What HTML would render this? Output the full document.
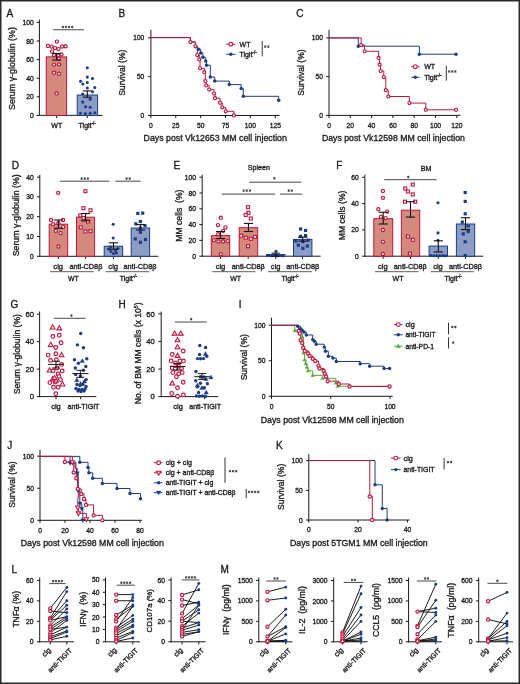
<!DOCTYPE html>
<html><head><meta charset="utf-8"><style>
html,body{margin:0;padding:0;background:#fff;}
svg{display:block;font-family:"Liberation Sans",sans-serif;will-change:transform;}
svg text{stroke:#1a1a1a;stroke-width:0.32px;}
</style></head><body>
<svg width="520" height="684" viewBox="0 0 520 684">
<rect x="0" y="0" width="520" height="684" fill="#fff"/>
<text x="6.6" y="16.5" font-size="10" text-anchor="start" fill="#1a1a1a" >A</text>
<line x1="39.4" y1="19.5" x2="39.4" y2="115.9" stroke="#1a1a1a" stroke-width="1.0" />
<line x1="36.6" y1="115.4" x2="39.4" y2="115.4" stroke="#1a1a1a" stroke-width="1.0" />
<text x="0" y="0" font-size="7.1" text-anchor="end" fill="#1a1a1a" transform="translate(33.7 117.96) scale(0.95 1)" >0</text>
<line x1="36.6" y1="96.8" x2="39.4" y2="96.8" stroke="#1a1a1a" stroke-width="1.0" />
<text x="0" y="0" font-size="7.1" text-anchor="end" fill="#1a1a1a" transform="translate(33.7 99.36) scale(0.95 1)" >20</text>
<line x1="36.6" y1="78.2" x2="39.4" y2="78.2" stroke="#1a1a1a" stroke-width="1.0" />
<text x="0" y="0" font-size="7.1" text-anchor="end" fill="#1a1a1a" transform="translate(33.7 80.76) scale(0.95 1)" >40</text>
<line x1="36.6" y1="59.6" x2="39.4" y2="59.6" stroke="#1a1a1a" stroke-width="1.0" />
<text x="0" y="0" font-size="7.1" text-anchor="end" fill="#1a1a1a" transform="translate(33.7 62.16) scale(0.95 1)" >60</text>
<line x1="36.6" y1="41" x2="39.4" y2="41" stroke="#1a1a1a" stroke-width="1.0" />
<text x="0" y="0" font-size="7.1" text-anchor="end" fill="#1a1a1a" transform="translate(33.7 43.56) scale(0.95 1)" >80</text>
<line x1="36.6" y1="22.4" x2="39.4" y2="22.4" stroke="#1a1a1a" stroke-width="1.0" />
<text x="0" y="0" font-size="7.1" text-anchor="end" fill="#1a1a1a" transform="translate(33.7 24.96) scale(0.95 1)" >100</text>
<line x1="38.9" y1="115.4" x2="102.5" y2="115.4" stroke="#1a1a1a" stroke-width="1.0" />
<line x1="56.6" y1="115.4" x2="56.6" y2="118" stroke="#1a1a1a" stroke-width="1.0" />
<line x1="87.3" y1="115.4" x2="87.3" y2="118" stroke="#1a1a1a" stroke-width="1.0" />
<text x="15" y="68.5" font-size="8.9" text-anchor="middle" fill="#1a1a1a" transform="rotate(-90 15 68.5)" >Serum &#947;-globulin (%)</text>
<rect x="46.25" y="56.9" width="20.35" height="58.5" fill="#d38a7c" stroke="#c0143c" stroke-width="1.0"/>
<rect x="77.2" y="95" width="20.4" height="20.4" fill="#8d9cc4" stroke="#1c3d85" stroke-width="1.0"/>
<text x="56.8" y="128.1" font-size="7" text-anchor="middle" fill="#1a1a1a" >WT</text>
<text x="78.6" y="128.1" font-size="7" text-anchor="start" fill="#1a1a1a" >Tigit<tspan font-size="4.6" dy="-2.9">-/-</tspan></text>
<line x1="53.1" y1="29.75" x2="84" y2="29.75" stroke="#333" stroke-width="0.9" />
<path d="M62.95 25.75L62.95 28.25M64.03 26.38L61.87 27.62M64.03 27.62L61.87 26.38" stroke="#333" stroke-width="0.85" fill="none"/>
<path d="M66.05 25.75L66.05 28.25M67.13 26.38L64.97 27.62M67.13 27.62L64.97 26.38" stroke="#333" stroke-width="0.85" fill="none"/>
<path d="M69.15 25.75L69.15 28.25M70.23 26.38L68.07 27.62M70.23 27.62L68.07 26.38" stroke="#333" stroke-width="0.85" fill="none"/>
<path d="M72.25 25.75L72.25 28.25M73.33 26.38L71.17 27.62M73.33 27.62L71.17 26.38" stroke="#333" stroke-width="0.85" fill="none"/>
<circle cx="56.9" cy="41.6" r="1.6" fill="#fff" stroke="#c0143c" stroke-width="1.15"/>
<circle cx="47.9" cy="45.9" r="1.6" fill="#fff" stroke="#c0143c" stroke-width="1.15"/>
<circle cx="51.5" cy="46.6" r="1.6" fill="#fff" stroke="#c0143c" stroke-width="1.15"/>
<circle cx="55" cy="48.1" r="1.6" fill="#fff" stroke="#c0143c" stroke-width="1.15"/>
<circle cx="58.5" cy="49.1" r="1.6" fill="#fff" stroke="#c0143c" stroke-width="1.15"/>
<circle cx="62.1" cy="46.5" r="1.6" fill="#fff" stroke="#c0143c" stroke-width="1.15"/>
<circle cx="65.6" cy="46.25" r="1.6" fill="#fff" stroke="#c0143c" stroke-width="1.15"/>
<circle cx="52.1" cy="51.6" r="1.6" fill="#fff" stroke="#c0143c" stroke-width="1.15"/>
<circle cx="54" cy="55" r="1.6" fill="#fff" stroke="#c0143c" stroke-width="1.15"/>
<circle cx="58.1" cy="55.4" r="1.6" fill="#fff" stroke="#c0143c" stroke-width="1.15"/>
<circle cx="61.5" cy="54.4" r="1.6" fill="#fff" stroke="#c0143c" stroke-width="1.15"/>
<circle cx="58.75" cy="58.75" r="1.6" fill="#fff" stroke="#c0143c" stroke-width="1.15"/>
<circle cx="54.1" cy="64.6" r="1.6" fill="#fff" stroke="#c0143c" stroke-width="1.15"/>
<circle cx="59.1" cy="64.4" r="1.6" fill="#fff" stroke="#c0143c" stroke-width="1.15"/>
<circle cx="54.1" cy="72.75" r="1.6" fill="#fff" stroke="#c0143c" stroke-width="1.15"/>
<circle cx="59" cy="73.75" r="1.6" fill="#fff" stroke="#c0143c" stroke-width="1.15"/>
<circle cx="56.6" cy="93.4" r="1.6" fill="#fff" stroke="#c0143c" stroke-width="1.15"/>
<line x1="56.6" y1="53.5" x2="56.6" y2="60" stroke="#111" stroke-width="1.1" />
<line x1="52.2" y1="53.5" x2="61" y2="53.5" stroke="#111" stroke-width="1.1" />
<line x1="52.2" y1="60" x2="61" y2="60" stroke="#111" stroke-width="1.1" />
<circle cx="87.3" cy="67.7" r="1.55" fill="#1c3d85"/>
<circle cx="87.3" cy="77.1" r="1.55" fill="#1c3d85"/>
<circle cx="92.5" cy="78.5" r="1.55" fill="#1c3d85"/>
<circle cx="80.6" cy="81.3" r="1.55" fill="#1c3d85"/>
<circle cx="82.9" cy="84" r="1.55" fill="#1c3d85"/>
<circle cx="87.3" cy="82.5" r="1.55" fill="#1c3d85"/>
<circle cx="94.8" cy="87.5" r="1.55" fill="#1c3d85"/>
<circle cx="87.3" cy="88" r="1.55" fill="#1c3d85"/>
<circle cx="92.5" cy="91.7" r="1.55" fill="#1c3d85"/>
<circle cx="82.7" cy="94" r="1.55" fill="#1c3d85"/>
<circle cx="90.2" cy="99.2" r="1.55" fill="#1c3d85"/>
<circle cx="82.7" cy="102.1" r="1.55" fill="#1c3d85"/>
<circle cx="85.6" cy="106.7" r="1.55" fill="#1c3d85"/>
<circle cx="90.2" cy="107.3" r="1.55" fill="#1c3d85"/>
<circle cx="80.4" cy="113.3" r="1.55" fill="#1c3d85"/>
<circle cx="85.3" cy="113.6" r="1.55" fill="#1c3d85"/>
<circle cx="90.2" cy="113.3" r="1.55" fill="#1c3d85"/>
<circle cx="94.8" cy="112.8" r="1.55" fill="#1c3d85"/>
<line x1="87.3" y1="90.9" x2="87.3" y2="97.2" stroke="#111" stroke-width="1.1" />
<line x1="82.9" y1="90.9" x2="91.7" y2="90.9" stroke="#111" stroke-width="1.1" />
<line x1="82.9" y1="97.2" x2="91.7" y2="97.2" stroke="#111" stroke-width="1.1" />
<text x="118.5" y="16.8" font-size="10" text-anchor="start" fill="#1a1a1a" >B</text>
<line x1="150.9" y1="29.8" x2="150.9" y2="116" stroke="#1a1a1a" stroke-width="1.0" />
<line x1="148.1" y1="115.5" x2="150.9" y2="115.5" stroke="#1a1a1a" stroke-width="1.0" />
<text x="0" y="0" font-size="7.1" text-anchor="end" fill="#1a1a1a" transform="translate(144.2 118.06) scale(0.92 1)" >0</text>
<line x1="148.1" y1="76.65" x2="150.9" y2="76.65" stroke="#1a1a1a" stroke-width="1.0" />
<text x="0" y="0" font-size="7.1" text-anchor="end" fill="#1a1a1a" transform="translate(144.2 79.21) scale(0.92 1)" >50</text>
<line x1="148.1" y1="37.8" x2="150.9" y2="37.8" stroke="#1a1a1a" stroke-width="1.0" />
<text x="0" y="0" font-size="7.1" text-anchor="end" fill="#1a1a1a" transform="translate(144.2 40.36) scale(0.92 1)" >100</text>
<line x1="150.4" y1="115.5" x2="279.5" y2="115.5" stroke="#1a1a1a" stroke-width="1.0" />
<line x1="150.9" y1="115.5" x2="150.9" y2="118.1" stroke="#1a1a1a" stroke-width="1.0" />
<text x="0" y="0" font-size="7.1" text-anchor="middle" fill="#1a1a1a" transform="translate(150.9 128.3) scale(0.95 1)" >0</text>
<line x1="175.78" y1="115.5" x2="175.78" y2="118.1" stroke="#1a1a1a" stroke-width="1.0" />
<text x="0" y="0" font-size="7.1" text-anchor="middle" fill="#1a1a1a" transform="translate(175.78 128.3) scale(0.95 1)" >25</text>
<line x1="200.65" y1="115.5" x2="200.65" y2="118.1" stroke="#1a1a1a" stroke-width="1.0" />
<text x="0" y="0" font-size="7.1" text-anchor="middle" fill="#1a1a1a" transform="translate(200.65 128.3) scale(0.95 1)" >50</text>
<line x1="225.53" y1="115.5" x2="225.53" y2="118.1" stroke="#1a1a1a" stroke-width="1.0" />
<text x="0" y="0" font-size="7.1" text-anchor="middle" fill="#1a1a1a" transform="translate(225.53 128.3) scale(0.95 1)" >75</text>
<line x1="250.4" y1="115.5" x2="250.4" y2="118.1" stroke="#1a1a1a" stroke-width="1.0" />
<text x="0" y="0" font-size="7.1" text-anchor="middle" fill="#1a1a1a" transform="translate(250.4 128.3) scale(0.95 1)" >100</text>
<line x1="275.27" y1="115.5" x2="275.27" y2="118.1" stroke="#1a1a1a" stroke-width="1.0" />
<text x="0" y="0" font-size="7.1" text-anchor="middle" fill="#1a1a1a" transform="translate(275.27 128.3) scale(0.95 1)" >125</text>
<text x="125.5" y="72.7" font-size="8.6" text-anchor="middle" fill="#1a1a1a" transform="rotate(-90 125.5 72.7)" >Survival (%)</text>
<text x="143.6" y="140.9" font-size="8.77" text-anchor="start" fill="#1a1a1a" >Days post Vk12653 MM cell injection</text>
<polyline points="150.9,37.6 190.4,37.6 190.4,42 195.4,42 195.4,46.3 197.3,46.3 197.3,49.3 198.5,49.3 200.7,49.3 200.7,52.9 202.9,52.9 202.9,57.3 205.7,57.3 205.7,61.1 206.5,61.1 206.5,65.2 210.3,65.2 210.3,77.1 214.7,77.1 214.7,81.1 229.3,81.1 229.3,84.6 241.2,84.6 241.2,88.5 243.3,88.5 243.3,96.3 278.7,96.3 278.7,100.3" fill="none" stroke="#1c3d85" stroke-width="1.0" stroke-linejoin="miter"/>
<polyline points="150.9,37.6 190.4,37.6 190.4,42 195.4,42 195.4,46.3 197.3,46.3 197.3,55 199.3,55 199.3,59.4 200,59.4 200,68.3 204.3,68.3 204.3,72.2 205.3,72.2 205.3,81.2 206.2,81.2 206.2,85.5 209.2,85.5 209.2,89.6 214,89.6 214,93.5 215,93.5 215,98.2 220,98.2 220,102.8 222.2,102.8 222.2,107.3 225.7,107.3 225.7,111.3 233.9,111.3 233.9,115.4" fill="none" stroke="#c0143c" stroke-width="1.0" stroke-linejoin="miter"/>
<circle cx="198.5" cy="49.3" r="1.75" fill="#1c3d85"/>
<circle cx="200.7" cy="52.9" r="1.75" fill="#1c3d85"/>
<circle cx="202.9" cy="57.3" r="1.75" fill="#1c3d85"/>
<circle cx="205.7" cy="61.1" r="1.75" fill="#1c3d85"/>
<circle cx="206.5" cy="65.2" r="1.75" fill="#1c3d85"/>
<circle cx="210.3" cy="77.1" r="1.75" fill="#1c3d85"/>
<circle cx="214.7" cy="81.1" r="1.75" fill="#1c3d85"/>
<circle cx="229.3" cy="84.6" r="1.75" fill="#1c3d85"/>
<circle cx="241.2" cy="88.5" r="1.75" fill="#1c3d85"/>
<circle cx="243.3" cy="96.3" r="1.75" fill="#1c3d85"/>
<circle cx="278.7" cy="100.3" r="1.75" fill="#1c3d85"/>
<circle cx="190.4" cy="42" r="1.55" fill="#fff" stroke="#c0143c" stroke-width="1.15"/>
<circle cx="195.4" cy="46.3" r="1.55" fill="#fff" stroke="#c0143c" stroke-width="1.15"/>
<circle cx="197.3" cy="55" r="1.55" fill="#fff" stroke="#c0143c" stroke-width="1.15"/>
<circle cx="199.3" cy="59.4" r="1.55" fill="#fff" stroke="#c0143c" stroke-width="1.15"/>
<circle cx="200" cy="68.3" r="1.55" fill="#fff" stroke="#c0143c" stroke-width="1.15"/>
<circle cx="204.3" cy="72.2" r="1.55" fill="#fff" stroke="#c0143c" stroke-width="1.15"/>
<circle cx="205.3" cy="81.2" r="1.55" fill="#fff" stroke="#c0143c" stroke-width="1.15"/>
<circle cx="206.2" cy="85.5" r="1.55" fill="#fff" stroke="#c0143c" stroke-width="1.15"/>
<circle cx="209.2" cy="89.6" r="1.55" fill="#fff" stroke="#c0143c" stroke-width="1.15"/>
<circle cx="214" cy="93.5" r="1.55" fill="#fff" stroke="#c0143c" stroke-width="1.15"/>
<circle cx="215" cy="98.2" r="1.55" fill="#fff" stroke="#c0143c" stroke-width="1.15"/>
<circle cx="220" cy="102.8" r="1.55" fill="#fff" stroke="#c0143c" stroke-width="1.15"/>
<circle cx="222.2" cy="107.3" r="1.55" fill="#fff" stroke="#c0143c" stroke-width="1.15"/>
<circle cx="225.7" cy="111.3" r="1.55" fill="#fff" stroke="#c0143c" stroke-width="1.15"/>
<circle cx="233.9" cy="115.4" r="1.55" fill="#fff" stroke="#c0143c" stroke-width="1.15"/>
<line x1="226.2" y1="44.3" x2="235.4" y2="44.3" stroke="#c0143c" stroke-width="1.0" />
<circle cx="230.8" cy="44.3" r="1.9" fill="#fff" stroke="#c0143c" stroke-width="1.15"/>
<text x="239.6" y="46.8" font-size="7" text-anchor="start" fill="#1a1a1a" >WT</text>
<line x1="226.2" y1="54.3" x2="235.4" y2="54.3" stroke="#1c3d85" stroke-width="1.0" />
<circle cx="230.8" cy="54.3" r="1.7" fill="#1c3d85"/>
<text x="239.4" y="56.9" font-size="7" text-anchor="start" fill="#1a1a1a" >Tigit<tspan font-size="4.6" dy="-2.9">-/-</tspan></text>
<line x1="262.2" y1="41" x2="262.2" y2="56.4" stroke="#333" stroke-width="1.0" />
<path d="M265.2 45.35L265.2 47.85M266.28 45.98L264.12 47.23M266.28 47.23L264.12 45.98" stroke="#333" stroke-width="0.85" fill="none"/>
<path d="M268.3 45.35L268.3 47.85M269.38 45.98L267.22 47.23M269.38 47.23L267.22 45.98" stroke="#333" stroke-width="0.85" fill="none"/>
<text x="296.2" y="16.7" font-size="10" text-anchor="start" fill="#1a1a1a" >C</text>
<line x1="329" y1="29.8" x2="329" y2="115.9" stroke="#1a1a1a" stroke-width="1.0" />
<line x1="326.2" y1="115.4" x2="329" y2="115.4" stroke="#1a1a1a" stroke-width="1.0" />
<text x="0" y="0" font-size="7.1" text-anchor="end" fill="#1a1a1a" transform="translate(322.9 117.96) scale(0.95 1)" >0</text>
<line x1="326.2" y1="76.65" x2="329" y2="76.65" stroke="#1a1a1a" stroke-width="1.0" />
<text x="0" y="0" font-size="7.1" text-anchor="end" fill="#1a1a1a" transform="translate(322.9 79.21) scale(0.95 1)" >50</text>
<line x1="326.2" y1="37.9" x2="329" y2="37.9" stroke="#1a1a1a" stroke-width="1.0" />
<text x="0" y="0" font-size="7.1" text-anchor="end" fill="#1a1a1a" transform="translate(322.9 40.46) scale(0.95 1)" >100</text>
<line x1="328.5" y1="115.4" x2="460.4" y2="115.4" stroke="#1a1a1a" stroke-width="1.0" />
<line x1="329" y1="115.4" x2="329" y2="118" stroke="#1a1a1a" stroke-width="1.0" />
<text x="0" y="0" font-size="7.1" text-anchor="middle" fill="#1a1a1a" transform="translate(329 128.2) scale(0.95 1)" >0</text>
<line x1="350.3" y1="115.4" x2="350.3" y2="118" stroke="#1a1a1a" stroke-width="1.0" />
<text x="0" y="0" font-size="7.1" text-anchor="middle" fill="#1a1a1a" transform="translate(350.3 128.2) scale(0.95 1)" >20</text>
<line x1="371.6" y1="115.4" x2="371.6" y2="118" stroke="#1a1a1a" stroke-width="1.0" />
<text x="0" y="0" font-size="7.1" text-anchor="middle" fill="#1a1a1a" transform="translate(371.6 128.2) scale(0.95 1)" >40</text>
<line x1="392.9" y1="115.4" x2="392.9" y2="118" stroke="#1a1a1a" stroke-width="1.0" />
<text x="0" y="0" font-size="7.1" text-anchor="middle" fill="#1a1a1a" transform="translate(392.9 128.2) scale(0.95 1)" >60</text>
<line x1="414.2" y1="115.4" x2="414.2" y2="118" stroke="#1a1a1a" stroke-width="1.0" />
<text x="0" y="0" font-size="7.1" text-anchor="middle" fill="#1a1a1a" transform="translate(414.2 128.2) scale(0.95 1)" >80</text>
<line x1="435.5" y1="115.4" x2="435.5" y2="118" stroke="#1a1a1a" stroke-width="1.0" />
<text x="0" y="0" font-size="7.1" text-anchor="middle" fill="#1a1a1a" transform="translate(435.5 128.2) scale(0.95 1)" >100</text>
<line x1="456.8" y1="115.4" x2="456.8" y2="118" stroke="#1a1a1a" stroke-width="1.0" />
<text x="0" y="0" font-size="7.1" text-anchor="middle" fill="#1a1a1a" transform="translate(456.8 128.2) scale(0.95 1)" >120</text>
<text x="304.3" y="72.5" font-size="8.6" text-anchor="middle" fill="#1a1a1a" transform="rotate(-90 304.3 72.5)" >Survival (%)</text>
<text x="321.9" y="140.9" font-size="8.75" text-anchor="start" fill="#1a1a1a" >Days post Vk12598 MM cell injection</text>
<polyline points="329,37.9 358.3,37.9 358.3,46.2 419.4,46.2 419.4,54.2 456,54.2 456,54.2" fill="none" stroke="#1c3d85" stroke-width="1.0" stroke-linejoin="miter"/>
<polyline points="329,37.9 361.2,37.9 361.2,45 364.6,45 364.6,51.3 378.6,51.3 378.6,57.9 379.6,57.9 379.6,64.6 380.6,64.6 380.6,71 383.8,71 383.8,77.1 385.8,77.1 385.8,90.2 388.3,90.2 388.3,96.5 409.4,96.5 409.4,103.1 425.8,103.1 425.8,109.8 456,109.8 456,109.8" fill="none" stroke="#c0143c" stroke-width="1.0" stroke-linejoin="miter"/>
<circle cx="358.3" cy="46.2" r="1.75" fill="#1c3d85"/>
<circle cx="419.4" cy="54.2" r="1.75" fill="#1c3d85"/>
<circle cx="456" cy="54.2" r="1.75" fill="#1c3d85"/>
<circle cx="361.2" cy="45" r="1.55" fill="#fff" stroke="#c0143c" stroke-width="1.15"/>
<circle cx="364.6" cy="51.3" r="1.55" fill="#fff" stroke="#c0143c" stroke-width="1.15"/>
<circle cx="378.6" cy="57.9" r="1.55" fill="#fff" stroke="#c0143c" stroke-width="1.15"/>
<circle cx="379.6" cy="64.6" r="1.55" fill="#fff" stroke="#c0143c" stroke-width="1.15"/>
<circle cx="380.6" cy="71" r="1.55" fill="#fff" stroke="#c0143c" stroke-width="1.15"/>
<circle cx="383.8" cy="77.1" r="1.55" fill="#fff" stroke="#c0143c" stroke-width="1.15"/>
<circle cx="385.8" cy="90.2" r="1.55" fill="#fff" stroke="#c0143c" stroke-width="1.15"/>
<circle cx="388.3" cy="96.5" r="1.55" fill="#fff" stroke="#c0143c" stroke-width="1.15"/>
<circle cx="409.4" cy="103.1" r="1.55" fill="#fff" stroke="#c0143c" stroke-width="1.15"/>
<circle cx="425.8" cy="109.8" r="1.55" fill="#fff" stroke="#c0143c" stroke-width="1.15"/>
<circle cx="456" cy="109.8" r="1.55" fill="#fff" stroke="#c0143c" stroke-width="1.15"/>
<line x1="411.3" y1="66.7" x2="419.6" y2="66.7" stroke="#c0143c" stroke-width="1.0" />
<circle cx="415.3" cy="66.7" r="1.9" fill="#fff" stroke="#c0143c" stroke-width="1.15"/>
<text x="424.2" y="69.2" font-size="7" text-anchor="start" fill="#1a1a1a" >WT</text>
<line x1="411.3" y1="77.3" x2="419.6" y2="77.3" stroke="#1c3d85" stroke-width="1.0" />
<circle cx="415.3" cy="77.3" r="1.7" fill="#1c3d85"/>
<text x="424.2" y="79.9" font-size="7" text-anchor="start" fill="#1a1a1a" >Tigit<tspan font-size="4.6" dy="-2.9">-/-</tspan></text>
<line x1="446.3" y1="65.8" x2="446.3" y2="80.6" stroke="#333" stroke-width="1.0" />
<path d="M449.2 70.25L449.2 72.75M450.28 70.88L448.12 72.12M450.28 72.12L448.12 70.88" stroke="#333" stroke-width="0.85" fill="none"/>
<path d="M452.3 70.25L452.3 72.75M453.38 70.88L451.22 72.12M453.38 72.12L451.22 70.88" stroke="#333" stroke-width="0.85" fill="none"/>
<path d="M455.4 70.25L455.4 72.75M456.48 70.88L454.32 72.12M456.48 72.12L454.32 70.88" stroke="#333" stroke-width="0.85" fill="none"/>
<text x="11.8" y="168.5" font-size="10" text-anchor="start" fill="#1a1a1a" >D</text>
<line x1="39.8" y1="174.8" x2="39.8" y2="256.8" stroke="#1a1a1a" stroke-width="1.0" />
<line x1="37" y1="256.3" x2="39.8" y2="256.3" stroke="#1a1a1a" stroke-width="1.0" />
<text x="0" y="0" font-size="7.1" text-anchor="end" fill="#1a1a1a" transform="translate(33.7 258.86) scale(0.95 1)" >0</text>
<line x1="37" y1="236.5" x2="39.8" y2="236.5" stroke="#1a1a1a" stroke-width="1.0" />
<text x="0" y="0" font-size="7.1" text-anchor="end" fill="#1a1a1a" transform="translate(33.7 239.06) scale(0.95 1)" >10</text>
<line x1="37" y1="216.7" x2="39.8" y2="216.7" stroke="#1a1a1a" stroke-width="1.0" />
<text x="0" y="0" font-size="7.1" text-anchor="end" fill="#1a1a1a" transform="translate(33.7 219.26) scale(0.95 1)" >20</text>
<line x1="37" y1="196.9" x2="39.8" y2="196.9" stroke="#1a1a1a" stroke-width="1.0" />
<text x="0" y="0" font-size="7.1" text-anchor="end" fill="#1a1a1a" transform="translate(33.7 199.46) scale(0.95 1)" >30</text>
<line x1="37" y1="177.1" x2="39.8" y2="177.1" stroke="#1a1a1a" stroke-width="1.0" />
<text x="0" y="0" font-size="7.1" text-anchor="end" fill="#1a1a1a" transform="translate(33.7 179.66) scale(0.95 1)" >40</text>
<line x1="39.3" y1="256.3" x2="158.4" y2="256.3" stroke="#1a1a1a" stroke-width="1.0" />
<line x1="58.45" y1="256.3" x2="58.45" y2="258.9" stroke="#1a1a1a" stroke-width="1.0" />
<line x1="85.55" y1="256.3" x2="85.55" y2="258.9" stroke="#1a1a1a" stroke-width="1.0" />
<line x1="113.45" y1="256.3" x2="113.45" y2="258.9" stroke="#1a1a1a" stroke-width="1.0" />
<line x1="140.4" y1="256.3" x2="140.4" y2="258.9" stroke="#1a1a1a" stroke-width="1.0" />
<text x="19.4" y="215.3" font-size="8.8" text-anchor="middle" fill="#1a1a1a" transform="rotate(-90 19.4 215.3)" >Serum &#947;-globulin (%)</text>
<rect x="49.2" y="224.2" width="18.5" height="32.1" fill="#d38a7c" stroke="#c0143c" stroke-width="1.0"/>
<rect x="76.5" y="217.2" width="18.1" height="39.1" fill="#d38a7c" stroke="#c0143c" stroke-width="1.0"/>
<rect x="104.2" y="246.2" width="18.5" height="10.1" fill="#8d9cc4" stroke="#1c3d85" stroke-width="1.0"/>
<rect x="131.2" y="228" width="18.4" height="28.3" fill="#8d9cc4" stroke="#1c3d85" stroke-width="1.0"/>
<circle cx="58.2" cy="192.8" r="1.6" fill="#fff" stroke="#c0143c" stroke-width="1.15"/>
<circle cx="51.1" cy="220" r="1.6" fill="#fff" stroke="#c0143c" stroke-width="1.15"/>
<circle cx="63.1" cy="220" r="1.6" fill="#fff" stroke="#c0143c" stroke-width="1.15"/>
<circle cx="53.1" cy="224.2" r="1.6" fill="#fff" stroke="#c0143c" stroke-width="1.15"/>
<circle cx="63.1" cy="226.9" r="1.6" fill="#fff" stroke="#c0143c" stroke-width="1.15"/>
<circle cx="58.4" cy="223" r="1.6" fill="#fff" stroke="#c0143c" stroke-width="1.15"/>
<circle cx="55.8" cy="230.8" r="1.6" fill="#fff" stroke="#c0143c" stroke-width="1.15"/>
<circle cx="60.5" cy="233.1" r="1.6" fill="#fff" stroke="#c0143c" stroke-width="1.15"/>
<circle cx="58.5" cy="246.5" r="1.6" fill="#fff" stroke="#c0143c" stroke-width="1.15"/>
<rect x="83.9" y="189.7" width="3.0" height="3.0" fill="#fff" stroke="#c0143c" stroke-width="1.1"/>
<rect x="81.9" y="206.7" width="3.0" height="3.0" fill="#fff" stroke="#c0143c" stroke-width="1.1"/>
<rect x="89" y="208.8" width="3.0" height="3.0" fill="#fff" stroke="#c0143c" stroke-width="1.1"/>
<rect x="78.8" y="213.9" width="3.0" height="3.0" fill="#fff" stroke="#c0143c" stroke-width="1.1"/>
<rect x="82" y="216.5" width="3.0" height="3.0" fill="#fff" stroke="#c0143c" stroke-width="1.1"/>
<rect x="86.5" y="220" width="3.0" height="3.0" fill="#fff" stroke="#c0143c" stroke-width="1.1"/>
<rect x="79.3" y="225.9" width="3.0" height="3.0" fill="#fff" stroke="#c0143c" stroke-width="1.1"/>
<rect x="83.9" y="230" width="3.0" height="3.0" fill="#fff" stroke="#c0143c" stroke-width="1.1"/>
<rect x="89" y="229.7" width="3.0" height="3.0" fill="#fff" stroke="#c0143c" stroke-width="1.1"/>
<circle cx="113.2" cy="224.2" r="1.55" fill="#1c3d85"/>
<circle cx="113.2" cy="238" r="1.55" fill="#1c3d85"/>
<circle cx="108.5" cy="249" r="1.55" fill="#1c3d85"/>
<circle cx="111" cy="251.5" r="1.55" fill="#1c3d85"/>
<circle cx="115.5" cy="250.5" r="1.55" fill="#1c3d85"/>
<circle cx="118" cy="248.5" r="1.55" fill="#1c3d85"/>
<circle cx="113.5" cy="253.5" r="1.55" fill="#1c3d85"/>
<circle cx="110.5" cy="247" r="1.55" fill="#1c3d85"/>
<circle cx="116.5" cy="253" r="1.55" fill="#1c3d85"/>
<rect x="136.2" y="211.8" width="3.2" height="3.2" fill="#1c3d85"/>
<rect x="141.1" y="211.5" width="3.2" height="3.2" fill="#1c3d85"/>
<rect x="138.8" y="219.9" width="3.2" height="3.2" fill="#1c3d85"/>
<rect x="134.2" y="222.2" width="3.2" height="3.2" fill="#1c3d85"/>
<rect x="143.4" y="224.1" width="3.2" height="3.2" fill="#1c3d85"/>
<rect x="138.8" y="226.6" width="3.2" height="3.2" fill="#1c3d85"/>
<rect x="138.8" y="230.7" width="3.2" height="3.2" fill="#1c3d85"/>
<rect x="133.7" y="237.3" width="3.2" height="3.2" fill="#1c3d85"/>
<rect x="143.9" y="237.9" width="3.2" height="3.2" fill="#1c3d85"/>
<rect x="138.8" y="240.7" width="3.2" height="3.2" fill="#1c3d85"/>
<line x1="58.45" y1="220" x2="58.45" y2="228.2" stroke="#111" stroke-width="1.1" />
<line x1="53.85" y1="220" x2="63.05" y2="220" stroke="#111" stroke-width="1.1" />
<line x1="53.85" y1="228.2" x2="63.05" y2="228.2" stroke="#111" stroke-width="1.1" />
<line x1="85.55" y1="213.5" x2="85.55" y2="220.8" stroke="#111" stroke-width="1.1" />
<line x1="80.95" y1="213.5" x2="90.15" y2="213.5" stroke="#111" stroke-width="1.1" />
<line x1="80.95" y1="220.8" x2="90.15" y2="220.8" stroke="#111" stroke-width="1.1" />
<line x1="113.45" y1="242.8" x2="113.45" y2="249.2" stroke="#111" stroke-width="1.1" />
<line x1="108.85" y1="242.8" x2="118.05" y2="242.8" stroke="#111" stroke-width="1.1" />
<line x1="108.85" y1="249.2" x2="118.05" y2="249.2" stroke="#111" stroke-width="1.1" />
<line x1="140.4" y1="224.6" x2="140.4" y2="230" stroke="#111" stroke-width="1.1" />
<line x1="135.8" y1="224.6" x2="145" y2="224.6" stroke="#111" stroke-width="1.1" />
<line x1="135.8" y1="230" x2="145" y2="230" stroke="#111" stroke-width="1.1" />
<line x1="60" y1="181.2" x2="109.4" y2="181.2" stroke="#333" stroke-width="0.9" />
<path d="M81.6 177.35L81.6 179.85M82.68 177.97L80.52 179.22M82.68 179.22L80.52 177.97" stroke="#333" stroke-width="0.85" fill="none"/>
<path d="M84.7 177.35L84.7 179.85M85.78 177.97L83.62 179.22M85.78 179.22L83.62 177.97" stroke="#333" stroke-width="0.85" fill="none"/>
<path d="M87.8 177.35L87.8 179.85M88.88 177.97L86.72 179.22M88.88 179.22L86.72 177.97" stroke="#333" stroke-width="0.85" fill="none"/>
<line x1="115.5" y1="181.2" x2="140.8" y2="181.2" stroke="#333" stroke-width="0.9" />
<path d="M126.6 177.35L126.6 179.85M127.68 177.97L125.52 179.22M127.68 179.22L125.52 177.97" stroke="#333" stroke-width="0.85" fill="none"/>
<path d="M129.7 177.35L129.7 179.85M130.78 177.97L128.62 179.22M130.78 179.22L128.62 177.97" stroke="#333" stroke-width="0.85" fill="none"/>
<text x="58.2" y="269.4" font-size="7.6" text-anchor="middle" fill="#1a1a1a" >clg</text>
<text x="85.9" y="269.4" font-size="7.3" text-anchor="middle" fill="#1a1a1a" >anti-CD8&#946;</text>
<text x="113.2" y="269.4" font-size="7.6" text-anchor="middle" fill="#1a1a1a" >clg</text>
<text x="140" y="269.4" font-size="7.3" text-anchor="middle" fill="#1a1a1a" >anti-CD8&#946;</text>
<line x1="50" y1="271.7" x2="93.6" y2="271.7" stroke="#555" stroke-width="0.95" />
<line x1="105.5" y1="271.7" x2="149.3" y2="271.7" stroke="#555" stroke-width="0.95" />
<text x="73.4" y="281" font-size="7" text-anchor="middle" fill="#1a1a1a" >WT</text>
<text x="119.8" y="281" font-size="7" text-anchor="start" fill="#1a1a1a" >Tigit<tspan font-size="4.6" dy="-2.9">-/-</tspan></text>
<text x="173.6" y="168.5" font-size="10" text-anchor="start" fill="#1a1a1a" >E</text>
<line x1="202.2" y1="174.7" x2="202.2" y2="256.7" stroke="#1a1a1a" stroke-width="1.0" />
<line x1="199.4" y1="256.2" x2="202.2" y2="256.2" stroke="#1a1a1a" stroke-width="1.0" />
<text x="0" y="0" font-size="7.1" text-anchor="end" fill="#1a1a1a" transform="translate(196.1 258.76) scale(0.95 1)" >0</text>
<line x1="199.4" y1="240.4" x2="202.2" y2="240.4" stroke="#1a1a1a" stroke-width="1.0" />
<text x="0" y="0" font-size="7.1" text-anchor="end" fill="#1a1a1a" transform="translate(196.1 242.96) scale(0.95 1)" >20</text>
<line x1="199.4" y1="224.6" x2="202.2" y2="224.6" stroke="#1a1a1a" stroke-width="1.0" />
<text x="0" y="0" font-size="7.1" text-anchor="end" fill="#1a1a1a" transform="translate(196.1 227.16) scale(0.95 1)" >40</text>
<line x1="199.4" y1="208.8" x2="202.2" y2="208.8" stroke="#1a1a1a" stroke-width="1.0" />
<text x="0" y="0" font-size="7.1" text-anchor="end" fill="#1a1a1a" transform="translate(196.1 211.36) scale(0.95 1)" >60</text>
<line x1="199.4" y1="193" x2="202.2" y2="193" stroke="#1a1a1a" stroke-width="1.0" />
<text x="0" y="0" font-size="7.1" text-anchor="end" fill="#1a1a1a" transform="translate(196.1 195.56) scale(0.95 1)" >80</text>
<line x1="199.4" y1="177.2" x2="202.2" y2="177.2" stroke="#1a1a1a" stroke-width="1.0" />
<text x="0" y="0" font-size="7.1" text-anchor="end" fill="#1a1a1a" transform="translate(196.1 179.76) scale(0.95 1)" >100</text>
<line x1="201.7" y1="256.2" x2="320.7" y2="256.2" stroke="#1a1a1a" stroke-width="1.0" />
<line x1="220.5" y1="256.2" x2="220.5" y2="258.8" stroke="#1a1a1a" stroke-width="1.0" />
<line x1="248.2" y1="256.2" x2="248.2" y2="258.8" stroke="#1a1a1a" stroke-width="1.0" />
<line x1="275.7" y1="256.2" x2="275.7" y2="258.8" stroke="#1a1a1a" stroke-width="1.0" />
<line x1="302.5" y1="256.2" x2="302.5" y2="258.8" stroke="#1a1a1a" stroke-width="1.0" />
<text x="182.3" y="215.6" font-size="8.6" text-anchor="middle" fill="#1a1a1a" transform="rotate(-90 182.3 215.6)" >MM cells&#160;&#160;(%)</text>
<text x="258.9" y="170.2" font-size="7.1" text-anchor="middle" fill="#1a1a1a" >Spleen</text>
<rect x="211.3" y="235.6" width="18.4" height="20.6" fill="#d38a7c" stroke="#c0143c" stroke-width="1.0"/>
<rect x="239.2" y="227.7" width="18.5" height="28.5" fill="#d38a7c" stroke="#c0143c" stroke-width="1.0"/>
<rect x="266.5" y="254.6" width="18.4" height="1.6" fill="#8d9cc4" stroke="#1c3d85" stroke-width="1.0"/>
<rect x="293.5" y="239.4" width="18.4" height="16.8" fill="#8d9cc4" stroke="#1c3d85" stroke-width="1.0"/>
<circle cx="220.8" cy="217.7" r="1.6" fill="#fff" stroke="#c0143c" stroke-width="1.15"/>
<circle cx="218" cy="225.1" r="1.6" fill="#fff" stroke="#c0143c" stroke-width="1.15"/>
<circle cx="225.4" cy="227.4" r="1.6" fill="#fff" stroke="#c0143c" stroke-width="1.15"/>
<circle cx="223.1" cy="230.8" r="1.6" fill="#fff" stroke="#c0143c" stroke-width="1.15"/>
<circle cx="218.2" cy="234.2" r="1.6" fill="#fff" stroke="#c0143c" stroke-width="1.15"/>
<circle cx="213.8" cy="240.3" r="1.6" fill="#fff" stroke="#c0143c" stroke-width="1.15"/>
<circle cx="218.5" cy="241.5" r="1.6" fill="#fff" stroke="#c0143c" stroke-width="1.15"/>
<circle cx="223.1" cy="241.5" r="1.6" fill="#fff" stroke="#c0143c" stroke-width="1.15"/>
<circle cx="227.7" cy="241.1" r="1.6" fill="#fff" stroke="#c0143c" stroke-width="1.15"/>
<circle cx="220.8" cy="254.2" r="1.6" fill="#fff" stroke="#c0143c" stroke-width="1.15"/>
<rect x="246.5" y="205.7" width="3.0" height="3.0" fill="#fff" stroke="#c0143c" stroke-width="1.1"/>
<rect x="247" y="211.3" width="3.0" height="3.0" fill="#fff" stroke="#c0143c" stroke-width="1.1"/>
<rect x="244.2" y="213.4" width="3.0" height="3.0" fill="#fff" stroke="#c0143c" stroke-width="1.1"/>
<rect x="249.3" y="217" width="3.0" height="3.0" fill="#fff" stroke="#c0143c" stroke-width="1.1"/>
<rect x="239.7" y="234.2" width="3.0" height="3.0" fill="#fff" stroke="#c0143c" stroke-width="1.1"/>
<rect x="244.3" y="236.2" width="3.0" height="3.0" fill="#fff" stroke="#c0143c" stroke-width="1.1"/>
<rect x="249.3" y="237.3" width="3.0" height="3.0" fill="#fff" stroke="#c0143c" stroke-width="1.1"/>
<rect x="253.6" y="235.4" width="3.0" height="3.0" fill="#fff" stroke="#c0143c" stroke-width="1.1"/>
<rect x="246.5" y="244.7" width="3.0" height="3.0" fill="#fff" stroke="#c0143c" stroke-width="1.1"/>
<circle cx="276" cy="251.3" r="1.55" fill="#1c3d85"/>
<circle cx="268.5" cy="255.3" r="1.55" fill="#1c3d85"/>
<circle cx="271.5" cy="255.8" r="1.55" fill="#1c3d85"/>
<circle cx="274.5" cy="255.3" r="1.55" fill="#1c3d85"/>
<circle cx="277.5" cy="255.8" r="1.55" fill="#1c3d85"/>
<circle cx="280.5" cy="255.3" r="1.55" fill="#1c3d85"/>
<circle cx="283" cy="255.8" r="1.55" fill="#1c3d85"/>
<rect x="299" y="227.4" width="3.2" height="3.2" fill="#1c3d85"/>
<rect x="304" y="228.9" width="3.2" height="3.2" fill="#1c3d85"/>
<rect x="299" y="234.7" width="3.2" height="3.2" fill="#1c3d85"/>
<rect x="304" y="234" width="3.2" height="3.2" fill="#1c3d85"/>
<rect x="294.2" y="239.3" width="3.2" height="3.2" fill="#1c3d85"/>
<rect x="306.6" y="238.6" width="3.2" height="3.2" fill="#1c3d85"/>
<rect x="296.7" y="243.6" width="3.2" height="3.2" fill="#1c3d85"/>
<rect x="305.7" y="244.4" width="3.2" height="3.2" fill="#1c3d85"/>
<rect x="301.3" y="246.7" width="3.2" height="3.2" fill="#1c3d85"/>
<rect x="301.3" y="240.1" width="3.2" height="3.2" fill="#1c3d85"/>
<line x1="220.5" y1="231.5" x2="220.5" y2="238.5" stroke="#111" stroke-width="1.1" />
<line x1="215.9" y1="231.5" x2="225.1" y2="231.5" stroke="#111" stroke-width="1.1" />
<line x1="215.9" y1="238.5" x2="225.1" y2="238.5" stroke="#111" stroke-width="1.1" />
<line x1="248.45" y1="223.4" x2="248.45" y2="231.5" stroke="#111" stroke-width="1.1" />
<line x1="243.85" y1="223.4" x2="253.05" y2="223.4" stroke="#111" stroke-width="1.1" />
<line x1="243.85" y1="231.5" x2="253.05" y2="231.5" stroke="#111" stroke-width="1.1" />
<line x1="275.7" y1="253.2" x2="275.7" y2="256.2" stroke="#111" stroke-width="1.1" />
<line x1="271.7" y1="253.2" x2="279.7" y2="253.2" stroke="#111" stroke-width="1.1" />
<line x1="271.7" y1="256.2" x2="279.7" y2="256.2" stroke="#111" stroke-width="1.1" />
<line x1="302.7" y1="237.1" x2="302.7" y2="241.2" stroke="#111" stroke-width="1.1" />
<line x1="298.1" y1="237.1" x2="307.3" y2="237.1" stroke="#111" stroke-width="1.1" />
<line x1="298.1" y1="241.2" x2="307.3" y2="241.2" stroke="#111" stroke-width="1.1" />
<line x1="249.3" y1="182.2" x2="301.3" y2="182.2" stroke="#333" stroke-width="0.9" />
<path d="M274.3 177.05L274.3 179.55M275.38 177.68L273.22 178.93M275.38 178.93L273.22 177.68" stroke="#333" stroke-width="0.85" fill="none"/>
<line x1="221.6" y1="194.1" x2="275.1" y2="194.1" stroke="#333" stroke-width="0.9" />
<path d="M243.7 189.35L243.7 191.85M244.78 189.97L242.62 191.22M244.78 191.22L242.62 189.97" stroke="#333" stroke-width="0.85" fill="none"/>
<path d="M246.8 189.35L246.8 191.85M247.88 189.97L245.72 191.22M247.88 191.22L245.72 189.97" stroke="#333" stroke-width="0.85" fill="none"/>
<path d="M249.9 189.35L249.9 191.85M250.98 189.97L248.82 191.22M250.98 191.22L248.82 189.97" stroke="#333" stroke-width="0.85" fill="none"/>
<line x1="280" y1="194.1" x2="302.3" y2="194.1" stroke="#333" stroke-width="0.9" />
<path d="M288.75 189.35L288.75 191.85M289.83 189.97L287.67 191.22M289.83 191.22L287.67 189.97" stroke="#333" stroke-width="0.85" fill="none"/>
<path d="M291.85 189.35L291.85 191.85M292.93 189.97L290.77 191.22M292.93 191.22L290.77 189.97" stroke="#333" stroke-width="0.85" fill="none"/>
<text x="220.5" y="269.4" font-size="7.6" text-anchor="middle" fill="#1a1a1a" >clg</text>
<text x="248.3" y="269.4" font-size="7.3" text-anchor="middle" fill="#1a1a1a" >anti-CD8&#946;</text>
<text x="275.7" y="269.4" font-size="7.6" text-anchor="middle" fill="#1a1a1a" >clg</text>
<text x="302.8" y="269.4" font-size="7.3" text-anchor="middle" fill="#1a1a1a" >anti-CD8&#946;</text>
<line x1="212.3" y1="271.7" x2="255.4" y2="271.7" stroke="#555" stroke-width="0.95" />
<line x1="268" y1="271.7" x2="311.8" y2="271.7" stroke="#555" stroke-width="0.95" />
<text x="235.7" y="281" font-size="7" text-anchor="middle" fill="#1a1a1a" >WT</text>
<text x="281.6" y="281" font-size="7" text-anchor="start" fill="#1a1a1a" >Tigit<tspan font-size="4.6" dy="-2.9">-/-</tspan></text>
<text x="336.3" y="168.8" font-size="10" text-anchor="start" fill="#1a1a1a" >F</text>
<line x1="364.9" y1="174.7" x2="364.9" y2="256.7" stroke="#1a1a1a" stroke-width="1.0" />
<line x1="362.1" y1="256.2" x2="364.9" y2="256.2" stroke="#1a1a1a" stroke-width="1.0" />
<text x="0" y="0" font-size="7.1" text-anchor="end" fill="#1a1a1a" transform="translate(358.8 258.76) scale(0.95 1)" >0</text>
<line x1="362.1" y1="229.9" x2="364.9" y2="229.9" stroke="#1a1a1a" stroke-width="1.0" />
<text x="0" y="0" font-size="7.1" text-anchor="end" fill="#1a1a1a" transform="translate(358.8 232.46) scale(0.95 1)" >20</text>
<line x1="362.1" y1="203.6" x2="364.9" y2="203.6" stroke="#1a1a1a" stroke-width="1.0" />
<text x="0" y="0" font-size="7.1" text-anchor="end" fill="#1a1a1a" transform="translate(358.8 206.16) scale(0.95 1)" >40</text>
<line x1="362.1" y1="177.3" x2="364.9" y2="177.3" stroke="#1a1a1a" stroke-width="1.0" />
<text x="0" y="0" font-size="7.1" text-anchor="end" fill="#1a1a1a" transform="translate(358.8 179.86) scale(0.95 1)" >60</text>
<line x1="364.4" y1="256.2" x2="483.4" y2="256.2" stroke="#1a1a1a" stroke-width="1.0" />
<line x1="383.2" y1="256.2" x2="383.2" y2="258.8" stroke="#1a1a1a" stroke-width="1.0" />
<line x1="410.5" y1="256.2" x2="410.5" y2="258.8" stroke="#1a1a1a" stroke-width="1.0" />
<line x1="438.3" y1="256.2" x2="438.3" y2="258.8" stroke="#1a1a1a" stroke-width="1.0" />
<line x1="465.5" y1="256.2" x2="465.5" y2="258.8" stroke="#1a1a1a" stroke-width="1.0" />
<text x="344.7" y="215.4" font-size="8.6" text-anchor="middle" fill="#1a1a1a" transform="rotate(-90 344.7 215.4)" >MM cells (%)</text>
<text x="426" y="170.6" font-size="7.1" text-anchor="middle" fill="#1a1a1a" >BM</text>
<rect x="373.8" y="218.7" width="18.9" height="37.5" fill="#d38a7c" stroke="#c0143c" stroke-width="1.0"/>
<rect x="401.4" y="210.2" width="18.3" height="46" fill="#d38a7c" stroke="#c0143c" stroke-width="1.0"/>
<rect x="429.1" y="246.1" width="18.4" height="10.1" fill="#8d9cc4" stroke="#1c3d85" stroke-width="1.0"/>
<rect x="456.4" y="224" width="18.3" height="32.2" fill="#8d9cc4" stroke="#1c3d85" stroke-width="1.0"/>
<circle cx="382.9" cy="190.9" r="1.6" fill="#fff" stroke="#c0143c" stroke-width="1.15"/>
<circle cx="382.9" cy="197.8" r="1.6" fill="#fff" stroke="#c0143c" stroke-width="1.15"/>
<circle cx="378.3" cy="209.2" r="1.6" fill="#fff" stroke="#c0143c" stroke-width="1.15"/>
<circle cx="387.2" cy="211.6" r="1.6" fill="#fff" stroke="#c0143c" stroke-width="1.15"/>
<circle cx="380.9" cy="216.7" r="1.6" fill="#fff" stroke="#c0143c" stroke-width="1.15"/>
<circle cx="385.6" cy="218.1" r="1.6" fill="#fff" stroke="#c0143c" stroke-width="1.15"/>
<circle cx="382.9" cy="230" r="1.6" fill="#fff" stroke="#c0143c" stroke-width="1.15"/>
<circle cx="382.9" cy="241.8" r="1.6" fill="#fff" stroke="#c0143c" stroke-width="1.15"/>
<circle cx="382.9" cy="254" r="1.6" fill="#fff" stroke="#c0143c" stroke-width="1.15"/>
<rect x="403.8" y="187" width="3.0" height="3.0" fill="#fff" stroke="#c0143c" stroke-width="1.1"/>
<rect x="411.3" y="183.1" width="3.0" height="3.0" fill="#fff" stroke="#c0143c" stroke-width="1.1"/>
<rect x="406.4" y="190" width="3.0" height="3.0" fill="#fff" stroke="#c0143c" stroke-width="1.1"/>
<rect x="411.3" y="192.9" width="3.0" height="3.0" fill="#fff" stroke="#c0143c" stroke-width="1.1"/>
<rect x="403.5" y="200.2" width="3.0" height="3.0" fill="#fff" stroke="#c0143c" stroke-width="1.1"/>
<rect x="413.7" y="200.2" width="3.0" height="3.0" fill="#fff" stroke="#c0143c" stroke-width="1.1"/>
<rect x="406.4" y="235" width="3.0" height="3.0" fill="#fff" stroke="#c0143c" stroke-width="1.1"/>
<rect x="411.3" y="238.3" width="3.0" height="3.0" fill="#fff" stroke="#c0143c" stroke-width="1.1"/>
<rect x="408.4" y="252.1" width="3.0" height="3.0" fill="#fff" stroke="#c0143c" stroke-width="1.1"/>
<circle cx="438" cy="202.7" r="1.55" fill="#1c3d85"/>
<circle cx="438" cy="232.9" r="1.55" fill="#1c3d85"/>
<circle cx="438" cy="240.2" r="1.55" fill="#1c3d85"/>
<circle cx="430.8" cy="255.6" r="1.55" fill="#1c3d85"/>
<circle cx="433.8" cy="255.8" r="1.55" fill="#1c3d85"/>
<circle cx="436.8" cy="255.6" r="1.55" fill="#1c3d85"/>
<circle cx="439.8" cy="255.8" r="1.55" fill="#1c3d85"/>
<circle cx="442.8" cy="255.6" r="1.55" fill="#1c3d85"/>
<circle cx="445.5" cy="255.8" r="1.55" fill="#1c3d85"/>
<rect x="463.6" y="190.9" width="3.2" height="3.2" fill="#1c3d85"/>
<rect x="463.6" y="199.8" width="3.2" height="3.2" fill="#1c3d85"/>
<rect x="463.6" y="212.2" width="3.2" height="3.2" fill="#1c3d85"/>
<rect x="460.7" y="220.5" width="3.2" height="3.2" fill="#1c3d85"/>
<rect x="466.6" y="224.4" width="3.2" height="3.2" fill="#1c3d85"/>
<rect x="461.7" y="232.3" width="3.2" height="3.2" fill="#1c3d85"/>
<rect x="466.6" y="229.9" width="3.2" height="3.2" fill="#1c3d85"/>
<rect x="463.6" y="240.2" width="3.2" height="3.2" fill="#1c3d85"/>
<rect x="463.6" y="253.9" width="3.2" height="3.2" fill="#1c3d85"/>
<line x1="383.2" y1="212.2" x2="383.2" y2="224" stroke="#111" stroke-width="1.1" />
<line x1="378.6" y1="212.2" x2="387.8" y2="212.2" stroke="#111" stroke-width="1.1" />
<line x1="378.6" y1="224" x2="387.8" y2="224" stroke="#111" stroke-width="1.1" />
<line x1="410.5" y1="201.7" x2="410.5" y2="217.1" stroke="#111" stroke-width="1.1" />
<line x1="405.9" y1="201.7" x2="415.1" y2="201.7" stroke="#111" stroke-width="1.1" />
<line x1="405.9" y1="217.1" x2="415.1" y2="217.1" stroke="#111" stroke-width="1.1" />
<line x1="438.3" y1="240.8" x2="438.3" y2="252" stroke="#111" stroke-width="1.1" />
<line x1="433.7" y1="240.8" x2="442.9" y2="240.8" stroke="#111" stroke-width="1.1" />
<line x1="433.7" y1="252" x2="442.9" y2="252" stroke="#111" stroke-width="1.1" />
<line x1="465.5" y1="217.7" x2="465.5" y2="229.6" stroke="#111" stroke-width="1.1" />
<line x1="460.9" y1="217.7" x2="470.1" y2="217.7" stroke="#111" stroke-width="1.1" />
<line x1="460.9" y1="229.6" x2="470.1" y2="229.6" stroke="#111" stroke-width="1.1" />
<line x1="384.2" y1="179.7" x2="436.6" y2="179.7" stroke="#333" stroke-width="0.9" />
<path d="M408.3 175.75L408.3 178.25M409.38 176.38L407.22 177.62M409.38 177.62L407.22 176.38" stroke="#333" stroke-width="0.85" fill="none"/>
<text x="382.9" y="269.4" font-size="7.6" text-anchor="middle" fill="#1a1a1a" >clg</text>
<text x="410.3" y="269.4" font-size="7.3" text-anchor="middle" fill="#1a1a1a" >anti-CD8&#946;</text>
<text x="438" y="269.4" font-size="7.6" text-anchor="middle" fill="#1a1a1a" >clg</text>
<text x="465.5" y="269.4" font-size="7.3" text-anchor="middle" fill="#1a1a1a" >anti-CD8&#946;</text>
<line x1="375" y1="271.7" x2="418.4" y2="271.7" stroke="#555" stroke-width="0.95" />
<line x1="430.7" y1="271.7" x2="474.1" y2="271.7" stroke="#555" stroke-width="0.95" />
<text x="398" y="281" font-size="7" text-anchor="middle" fill="#1a1a1a" >WT</text>
<text x="444.5" y="281" font-size="7" text-anchor="start" fill="#1a1a1a" >Tigit<tspan font-size="4.6" dy="-2.9">-/-</tspan></text>
<text x="10.4" y="308.1" font-size="10" text-anchor="start" fill="#1a1a1a" >G</text>
<line x1="39.6" y1="311.5" x2="39.6" y2="397.1" stroke="#1a1a1a" stroke-width="1.0" />
<line x1="36.8" y1="396.6" x2="39.6" y2="396.6" stroke="#1a1a1a" stroke-width="1.0" />
<text x="34.1" y="399.37" font-size="7.7" text-anchor="end" fill="#1a1a1a" >0</text>
<line x1="36.8" y1="369.1" x2="39.6" y2="369.1" stroke="#1a1a1a" stroke-width="1.0" />
<text x="34.1" y="371.87" font-size="7.7" text-anchor="end" fill="#1a1a1a" >20</text>
<line x1="36.8" y1="341.6" x2="39.6" y2="341.6" stroke="#1a1a1a" stroke-width="1.0" />
<text x="34.1" y="344.37" font-size="7.7" text-anchor="end" fill="#1a1a1a" >40</text>
<line x1="36.8" y1="314.1" x2="39.6" y2="314.1" stroke="#1a1a1a" stroke-width="1.0" />
<text x="34.1" y="316.87" font-size="7.7" text-anchor="end" fill="#1a1a1a" >60</text>
<line x1="39.1" y1="396.6" x2="96.3" y2="396.6" stroke="#1a1a1a" stroke-width="1.0" />
<line x1="56" y1="396.6" x2="56" y2="399.2" stroke="#1a1a1a" stroke-width="1.0" />
<line x1="80.7" y1="396.6" x2="80.7" y2="399.2" stroke="#1a1a1a" stroke-width="1.0" />
<text x="19.8" y="354.2" font-size="8.6" text-anchor="middle" fill="#1a1a1a" transform="rotate(-90 19.8 354.2)" >Serum &#947;-globulin (%)</text>
<line x1="54" y1="318.3" x2="85.7" y2="318.3" stroke="#333" stroke-width="0.9" />
<path d="M71.5 314.35L71.5 316.85M72.58 314.98L70.42 316.23M72.58 316.23L70.42 314.98" stroke="#333" stroke-width="0.85" fill="none"/>
<text x="56" y="409.2" font-size="7.6" text-anchor="middle" fill="#1a1a1a" >clg</text>
<text x="83.5" y="409.2" font-size="7.1" text-anchor="middle" fill="#1a1a1a" >anti-TIGIT</text>
<circle cx="52.9" cy="336.4" r="1.85" fill="#fff" stroke="#c0143c" stroke-width="1.15"/>
<circle cx="59.3" cy="335.2" r="1.85" fill="#fff" stroke="#c0143c" stroke-width="1.15"/>
<circle cx="61.1" cy="342.8" r="1.85" fill="#fff" stroke="#c0143c" stroke-width="1.15"/>
<circle cx="55.8" cy="347.5" r="1.85" fill="#fff" stroke="#c0143c" stroke-width="1.15"/>
<circle cx="55.8" cy="353.7" r="1.85" fill="#fff" stroke="#c0143c" stroke-width="1.15"/>
<circle cx="48.2" cy="355.1" r="1.85" fill="#fff" stroke="#c0143c" stroke-width="1.15"/>
<circle cx="50.5" cy="360.4" r="1.85" fill="#fff" stroke="#c0143c" stroke-width="1.15"/>
<circle cx="56.4" cy="359.8" r="1.85" fill="#fff" stroke="#c0143c" stroke-width="1.15"/>
<circle cx="61.6" cy="364.4" r="1.85" fill="#fff" stroke="#c0143c" stroke-width="1.15"/>
<circle cx="53.1" cy="370.9" r="1.85" fill="#fff" stroke="#c0143c" stroke-width="1.15"/>
<circle cx="62.2" cy="370.9" r="1.85" fill="#fff" stroke="#c0143c" stroke-width="1.15"/>
<circle cx="58.1" cy="374" r="1.85" fill="#fff" stroke="#c0143c" stroke-width="1.15"/>
<circle cx="59" cy="376.5" r="1.85" fill="#fff" stroke="#c0143c" stroke-width="1.15"/>
<circle cx="60.5" cy="379.6" r="1.85" fill="#fff" stroke="#c0143c" stroke-width="1.15"/>
<circle cx="49.9" cy="382.6" r="1.85" fill="#fff" stroke="#c0143c" stroke-width="1.15"/>
<circle cx="55.2" cy="382" r="1.85" fill="#fff" stroke="#c0143c" stroke-width="1.15"/>
<circle cx="53.5" cy="387.3" r="1.85" fill="#fff" stroke="#c0143c" stroke-width="1.15"/>
<circle cx="58.1" cy="387.3" r="1.85" fill="#fff" stroke="#c0143c" stroke-width="1.15"/>
<circle cx="55.8" cy="393.7" r="1.85" fill="#fff" stroke="#c0143c" stroke-width="1.15"/>
<circle cx="57" cy="368" r="1.85" fill="#fff" stroke="#c0143c" stroke-width="1.15"/>
<polygon points="52.6,324.79 50.2,328.97 55,328.97" fill="#fff" stroke="#c0143c" stroke-width="1.1"/>
<polygon points="59.3,325.69 56.9,329.87 61.7,329.87" fill="#fff" stroke="#c0143c" stroke-width="1.1"/>
<polygon points="50.8,342.29 48.4,346.47 53.2,346.47" fill="#fff" stroke="#c0143c" stroke-width="1.1"/>
<polygon points="61.6,352.59 59.2,356.77 64,356.77" fill="#fff" stroke="#c0143c" stroke-width="1.1"/>
<polygon points="49.6,367.79 47.2,371.97 52,371.97" fill="#fff" stroke="#c0143c" stroke-width="1.1"/>
<polygon points="52.9,376.59 50.5,380.77 55.3,380.77" fill="#fff" stroke="#c0143c" stroke-width="1.1"/>
<polygon points="56,377.99 53.6,382.17 58.4,382.17" fill="#fff" stroke="#c0143c" stroke-width="1.1"/>
<polygon points="62.5,381.79 60.1,385.97 64.9,385.97" fill="#fff" stroke="#c0143c" stroke-width="1.1"/>
<polygon points="54.5,375.49 52.1,379.67 56.9,379.67" fill="#fff" stroke="#c0143c" stroke-width="1.1"/>
<circle cx="80.7" cy="333.5" r="1.7" fill="#1c3d85"/>
<circle cx="77.4" cy="344.9" r="1.7" fill="#1c3d85"/>
<circle cx="83.5" cy="347.8" r="1.7" fill="#1c3d85"/>
<circle cx="74.5" cy="359.8" r="1.7" fill="#1c3d85"/>
<circle cx="86.8" cy="358.8" r="1.7" fill="#1c3d85"/>
<circle cx="78.4" cy="363.3" r="1.7" fill="#1c3d85"/>
<circle cx="85.8" cy="366.5" r="1.7" fill="#1c3d85"/>
<circle cx="75.3" cy="368" r="1.7" fill="#1c3d85"/>
<circle cx="83.5" cy="370.3" r="1.7" fill="#1c3d85"/>
<circle cx="75.7" cy="374.4" r="1.7" fill="#1c3d85"/>
<circle cx="80.5" cy="376" r="1.7" fill="#1c3d85"/>
<circle cx="86.2" cy="379.6" r="1.7" fill="#1c3d85"/>
<circle cx="77" cy="384.5" r="1.7" fill="#1c3d85"/>
<circle cx="80" cy="385.5" r="1.7" fill="#1c3d85"/>
<circle cx="83" cy="384.5" r="1.7" fill="#1c3d85"/>
<circle cx="86" cy="386.5" r="1.7" fill="#1c3d85"/>
<circle cx="76" cy="388.5" r="1.7" fill="#1c3d85"/>
<circle cx="79" cy="389.5" r="1.7" fill="#1c3d85"/>
<circle cx="82" cy="389.5" r="1.7" fill="#1c3d85"/>
<circle cx="85" cy="389" r="1.7" fill="#1c3d85"/>
<circle cx="78" cy="391" r="1.7" fill="#1c3d85"/>
<circle cx="81" cy="391.5" r="1.7" fill="#1c3d85"/>
<circle cx="84" cy="391" r="1.7" fill="#1c3d85"/>
<polygon points="82.3,358.6 80,362.6 84.6,362.6" fill="#1c3d85" stroke="#1c3d85" stroke-width="0.3"/>
<polygon points="76.8,377.8 74.5,381.8 79.1,381.8" fill="#1c3d85" stroke="#1c3d85" stroke-width="0.3"/>
<polygon points="84.4,379 82.1,383 86.7,383" fill="#1c3d85" stroke="#1c3d85" stroke-width="0.3"/>
<polygon points="80.5,381.6 78.2,385.6 82.8,385.6" fill="#1c3d85" stroke="#1c3d85" stroke-width="0.3"/>
<line x1="48" y1="364.4" x2="64" y2="364.4" stroke="#1a1a1a" stroke-width="1.0" />
<line x1="56" y1="361.2" x2="56" y2="368" stroke="#1a1a1a" stroke-width="1.0" />
<line x1="52" y1="361.2" x2="60" y2="361.2" stroke="#1a1a1a" stroke-width="1.0" />
<line x1="52" y1="368" x2="60" y2="368" stroke="#1a1a1a" stroke-width="1.0" />
<line x1="72.2" y1="373.6" x2="88.5" y2="373.6" stroke="#1a1a1a" stroke-width="1.0" />
<line x1="80.35" y1="370.3" x2="80.35" y2="377.3" stroke="#1a1a1a" stroke-width="1.0" />
<line x1="76.35" y1="370.3" x2="84.35" y2="370.3" stroke="#1a1a1a" stroke-width="1.0" />
<line x1="76.35" y1="377.3" x2="84.35" y2="377.3" stroke="#1a1a1a" stroke-width="1.0" />
<text x="118.6" y="307.7" font-size="10" text-anchor="start" fill="#1a1a1a" >H</text>
<line x1="161.2" y1="311.6" x2="161.2" y2="397.1" stroke="#1a1a1a" stroke-width="1.0" />
<line x1="158.4" y1="396.6" x2="161.2" y2="396.6" stroke="#1a1a1a" stroke-width="1.0" />
<text x="154.7" y="399.37" font-size="7.7" text-anchor="end" fill="#1a1a1a" >0</text>
<line x1="158.4" y1="369" x2="161.2" y2="369" stroke="#1a1a1a" stroke-width="1.0" />
<text x="154.7" y="371.77" font-size="7.7" text-anchor="end" fill="#1a1a1a" >20</text>
<line x1="158.4" y1="341.4" x2="161.2" y2="341.4" stroke="#1a1a1a" stroke-width="1.0" />
<text x="154.7" y="344.17" font-size="7.7" text-anchor="end" fill="#1a1a1a" >40</text>
<line x1="158.4" y1="313.8" x2="161.2" y2="313.8" stroke="#1a1a1a" stroke-width="1.0" />
<text x="154.7" y="316.57" font-size="7.7" text-anchor="end" fill="#1a1a1a" >60</text>
<line x1="160.7" y1="396.6" x2="218" y2="396.6" stroke="#1a1a1a" stroke-width="1.0" />
<line x1="178.1" y1="396.6" x2="178.1" y2="399.2" stroke="#1a1a1a" stroke-width="1.0" />
<line x1="204.6" y1="396.6" x2="204.6" y2="399.2" stroke="#1a1a1a" stroke-width="1.0" />
<text x="140.6" y="353.3" font-size="8.6" text-anchor="middle" fill="#1a1a1a" transform="rotate(-90 140.6 353.3)" >No. of BM MM cells (x 10<tspan font-size="5.2" dy="-3">5</tspan><tspan dy="3">)</tspan></text>
<line x1="175" y1="322" x2="206.8" y2="322" stroke="#333" stroke-width="0.9" />
<path d="M191.2 317.95L191.2 320.45M192.28 318.57L190.12 319.82M192.28 319.82L190.12 318.57" stroke="#333" stroke-width="0.85" fill="none"/>
<text x="178.1" y="409.4" font-size="7.6" text-anchor="middle" fill="#1a1a1a" >clg</text>
<text x="205.2" y="409.4" font-size="7.1" text-anchor="middle" fill="#1a1a1a" >anti-TIGIT</text>
<circle cx="183.2" cy="351" r="1.85" fill="#fff" stroke="#c0143c" stroke-width="1.15"/>
<circle cx="172.3" cy="354.5" r="1.85" fill="#fff" stroke="#c0143c" stroke-width="1.15"/>
<circle cx="171.1" cy="360.9" r="1.85" fill="#fff" stroke="#c0143c" stroke-width="1.15"/>
<circle cx="183.4" cy="360.9" r="1.85" fill="#fff" stroke="#c0143c" stroke-width="1.15"/>
<circle cx="179.9" cy="360.9" r="1.85" fill="#fff" stroke="#c0143c" stroke-width="1.15"/>
<circle cx="175.5" cy="363" r="1.85" fill="#fff" stroke="#c0143c" stroke-width="1.15"/>
<circle cx="172.3" cy="368" r="1.85" fill="#fff" stroke="#c0143c" stroke-width="1.15"/>
<circle cx="175.2" cy="369.1" r="1.85" fill="#fff" stroke="#c0143c" stroke-width="1.15"/>
<circle cx="181.6" cy="368.5" r="1.85" fill="#fff" stroke="#c0143c" stroke-width="1.15"/>
<circle cx="172.9" cy="372.6" r="1.85" fill="#fff" stroke="#c0143c" stroke-width="1.15"/>
<circle cx="178.7" cy="373.8" r="1.85" fill="#fff" stroke="#c0143c" stroke-width="1.15"/>
<circle cx="182.2" cy="372.6" r="1.85" fill="#fff" stroke="#c0143c" stroke-width="1.15"/>
<circle cx="176.4" cy="376.7" r="1.85" fill="#fff" stroke="#c0143c" stroke-width="1.15"/>
<circle cx="183.2" cy="382.2" r="1.85" fill="#fff" stroke="#c0143c" stroke-width="1.15"/>
<circle cx="177.5" cy="387.8" r="1.85" fill="#fff" stroke="#c0143c" stroke-width="1.15"/>
<circle cx="171.7" cy="393.5" r="1.85" fill="#fff" stroke="#c0143c" stroke-width="1.15"/>
<circle cx="177.5" cy="396.3" r="1.85" fill="#fff" stroke="#c0143c" stroke-width="1.15"/>
<circle cx="183.4" cy="394.9" r="1.85" fill="#fff" stroke="#c0143c" stroke-width="1.15"/>
<circle cx="178.5" cy="366" r="1.85" fill="#fff" stroke="#c0143c" stroke-width="1.15"/>
<polygon points="174.6,330.99 172.2,335.17 177,335.17" fill="#fff" stroke="#c0143c" stroke-width="1.1"/>
<polygon points="180.8,330.99 178.4,335.17 183.2,335.17" fill="#fff" stroke="#c0143c" stroke-width="1.1"/>
<polygon points="177.5,337.59 175.1,341.77 179.9,341.77" fill="#fff" stroke="#c0143c" stroke-width="1.1"/>
<polygon points="177.5,344.59 175.1,348.77 179.9,348.77" fill="#fff" stroke="#c0143c" stroke-width="1.1"/>
<polygon points="177.5,353.19 175.1,357.37 179.9,357.37" fill="#fff" stroke="#c0143c" stroke-width="1.1"/>
<polygon points="172.3,380.89 169.9,385.07 174.7,385.07" fill="#fff" stroke="#c0143c" stroke-width="1.1"/>
<circle cx="199.8" cy="345.5" r="1.7" fill="#1c3d85"/>
<circle cx="205.6" cy="347.5" r="1.7" fill="#1c3d85"/>
<circle cx="199.5" cy="354.5" r="1.7" fill="#1c3d85"/>
<circle cx="206.8" cy="356.3" r="1.7" fill="#1c3d85"/>
<circle cx="197.5" cy="358.6" r="1.7" fill="#1c3d85"/>
<circle cx="200.5" cy="358.8" r="1.7" fill="#1c3d85"/>
<circle cx="203.5" cy="358.6" r="1.7" fill="#1c3d85"/>
<circle cx="196" cy="371.5" r="1.7" fill="#1c3d85"/>
<circle cx="200.4" cy="376.7" r="1.7" fill="#1c3d85"/>
<circle cx="203.8" cy="377" r="1.7" fill="#1c3d85"/>
<circle cx="195.7" cy="380.8" r="1.7" fill="#1c3d85"/>
<circle cx="200.4" cy="383.2" r="1.7" fill="#1c3d85"/>
<circle cx="207.4" cy="383.7" r="1.7" fill="#1c3d85"/>
<circle cx="197.4" cy="386.7" r="1.7" fill="#1c3d85"/>
<circle cx="204.4" cy="387.8" r="1.7" fill="#1c3d85"/>
<circle cx="198.6" cy="392.5" r="1.7" fill="#1c3d85"/>
<circle cx="196.5" cy="396" r="1.7" fill="#1c3d85"/>
<circle cx="199.5" cy="396.2" r="1.7" fill="#1c3d85"/>
<circle cx="202.5" cy="396" r="1.7" fill="#1c3d85"/>
<circle cx="205.5" cy="396.2" r="1.7" fill="#1c3d85"/>
<polygon points="205.4,351.5 203.1,355.5 207.7,355.5" fill="#1c3d85" stroke="#1c3d85" stroke-width="0.3"/>
<polygon points="210.9,374.9 208.6,378.9 213.2,378.9" fill="#1c3d85" stroke="#1c3d85" stroke-width="0.3"/>
<polygon points="206,376.6 203.7,380.6 208.3,380.6" fill="#1c3d85" stroke="#1c3d85" stroke-width="0.3"/>
<polygon points="197.5,383.1 195.2,387.1 199.8,387.1" fill="#1c3d85" stroke="#1c3d85" stroke-width="0.3"/>
<polygon points="206.2,390.1 203.9,394.1 208.5,394.1" fill="#1c3d85" stroke="#1c3d85" stroke-width="0.3"/>
<polygon points="202,385.6 199.7,389.6 204.3,389.6" fill="#1c3d85" stroke="#1c3d85" stroke-width="0.3"/>
<line x1="169.9" y1="366.5" x2="185.5" y2="366.5" stroke="#1a1a1a" stroke-width="1.0" />
<line x1="177.7" y1="363.5" x2="177.7" y2="370" stroke="#1a1a1a" stroke-width="1.0" />
<line x1="173.7" y1="363.5" x2="181.7" y2="363.5" stroke="#1a1a1a" stroke-width="1.0" />
<line x1="173.7" y1="370" x2="181.7" y2="370" stroke="#1a1a1a" stroke-width="1.0" />
<line x1="194.3" y1="376.7" x2="209.7" y2="376.7" stroke="#1a1a1a" stroke-width="1.0" />
<line x1="202" y1="373.6" x2="202" y2="379.4" stroke="#1a1a1a" stroke-width="1.0" />
<line x1="198" y1="373.6" x2="206" y2="373.6" stroke="#1a1a1a" stroke-width="1.0" />
<line x1="198" y1="379.4" x2="206" y2="379.4" stroke="#1a1a1a" stroke-width="1.0" />
<text x="238.8" y="307.9" font-size="10" text-anchor="start" fill="#1a1a1a" >I</text>
<line x1="271.5" y1="317.7" x2="271.5" y2="396.8" stroke="#1a1a1a" stroke-width="1.0" />
<line x1="268.7" y1="396.3" x2="271.5" y2="396.3" stroke="#1a1a1a" stroke-width="1.0" />
<text x="0" y="0" font-size="7.1" text-anchor="end" fill="#1a1a1a" transform="translate(265.4 398.86) scale(0.95 1)" >0</text>
<line x1="268.7" y1="360.75" x2="271.5" y2="360.75" stroke="#1a1a1a" stroke-width="1.0" />
<text x="0" y="0" font-size="7.1" text-anchor="end" fill="#1a1a1a" transform="translate(265.4 363.31) scale(0.95 1)" >50</text>
<line x1="268.7" y1="325.2" x2="271.5" y2="325.2" stroke="#1a1a1a" stroke-width="1.0" />
<text x="0" y="0" font-size="7.1" text-anchor="end" fill="#1a1a1a" transform="translate(265.4 327.76) scale(0.95 1)" >100</text>
<line x1="271" y1="396.3" x2="392.7" y2="396.3" stroke="#1a1a1a" stroke-width="1.0" />
<line x1="271.5" y1="396.3" x2="271.5" y2="398.9" stroke="#1a1a1a" stroke-width="1.0" />
<text x="0" y="0" font-size="7.1" text-anchor="middle" fill="#1a1a1a" transform="translate(271.5 409.3) scale(0.95 1)" >0</text>
<line x1="330.75" y1="396.3" x2="330.75" y2="398.9" stroke="#1a1a1a" stroke-width="1.0" />
<text x="0" y="0" font-size="7.1" text-anchor="middle" fill="#1a1a1a" transform="translate(330.75 409.3) scale(0.95 1)" >50</text>
<line x1="390" y1="396.3" x2="390" y2="398.9" stroke="#1a1a1a" stroke-width="1.0" />
<text x="0" y="0" font-size="7.1" text-anchor="middle" fill="#1a1a1a" transform="translate(390 409.3) scale(0.95 1)" >100</text>
<text x="247.5" y="357.2" font-size="8.6" text-anchor="middle" fill="#1a1a1a" transform="rotate(-90 247.5 357.2)" >Survival (%)</text>
<text x="260.8" y="423" font-size="8.75" text-anchor="start" fill="#1a1a1a" >Days post Vk12598 MM cell injection</text>
<polyline points="271.5,325.3 294.8,325.3 294.8,330.6 302.3,330.6 302.3,337 303.5,337 303.5,352.9 304.6,352.9 304.6,359.8 305.8,359.8 305.8,363.6 306.9,363.6 306.9,367.3 308.1,367.3 308.1,370.8 312.7,370.8 312.7,375.4 322.5,375.4 322.5,378.3 335.8,378.3 335.8,382.9 337.5,382.9 337.5,386.3 389.6,386.2" fill="none" stroke="#5aaa3c" stroke-width="1.0" stroke-linejoin="miter"/>
<polyline points="271.5,325.3 297.7,325.3 297.7,326.3 300.6,326.3 300.6,328.7 302.3,328.7 302.3,330.4 304,330.4 304,332.1 306.3,332.1 306.3,335 312.7,335 312.7,339.6 314.4,339.6 314.4,341.3 316.2,341.3 316.2,344.2 324.2,344.2 324.2,347.1 325.4,347.1 325.4,351.2 328.3,351.2 328.3,356.3 332.9,356.3 332.9,358.1 336.3,358.1 336.3,361.5 360.2,361.5 360.2,363.7 369.7,363.7 369.7,366.2 384.1,366.2 384.1,368.5 389.6,368.5 389.6,368.5" fill="none" stroke="#1c3d85" stroke-width="1.0" stroke-linejoin="miter"/>
<polyline points="271.5,325.3 298.6,325.3 298.6,331 299.8,331 299.8,333.6 300.6,333.6 300.6,340.2 302.3,340.2 302.3,343.1 303.2,343.1 303.2,347.7 304.8,347.7 304.8,350.9 308.1,350.9 308.1,353.5 309.5,353.5 309.5,355.8 312.7,355.8 312.7,358.7 315.2,358.7 315.2,361 318.5,361 318.5,365.6 319.6,365.6 319.6,368.5 323.7,368.5 323.7,370.8 324.8,370.8 324.8,373.7 326,373.7 326,376.5 327.7,376.5 327.7,381.2 338.7,381.2 338.7,384 349.5,384 349.5,386.5 389.6,386.5 389.6,386.5" fill="none" stroke="#c0143c" stroke-width="1.0" stroke-linejoin="miter"/>
<polygon points="294.8,328.62 292.9,331.92 296.7,331.92" fill="#5aaa3c" stroke="#5aaa3c" stroke-width="0.3"/>
<polygon points="302.3,335.02 300.4,338.32 304.2,338.32" fill="#5aaa3c" stroke="#5aaa3c" stroke-width="0.3"/>
<polygon points="303.5,350.92 301.6,354.22 305.4,354.22" fill="#5aaa3c" stroke="#5aaa3c" stroke-width="0.3"/>
<polygon points="304.6,357.82 302.7,361.12 306.5,361.12" fill="#5aaa3c" stroke="#5aaa3c" stroke-width="0.3"/>
<polygon points="305.8,361.62 303.9,364.92 307.7,364.92" fill="#5aaa3c" stroke="#5aaa3c" stroke-width="0.3"/>
<polygon points="306.9,365.32 305,368.62 308.8,368.62" fill="#5aaa3c" stroke="#5aaa3c" stroke-width="0.3"/>
<polygon points="308.1,368.82 306.2,372.12 310,372.12" fill="#5aaa3c" stroke="#5aaa3c" stroke-width="0.3"/>
<polygon points="312.7,373.42 310.8,376.72 314.6,376.72" fill="#5aaa3c" stroke="#5aaa3c" stroke-width="0.3"/>
<polygon points="322.5,376.32 320.6,379.62 324.4,379.62" fill="#5aaa3c" stroke="#5aaa3c" stroke-width="0.3"/>
<polygon points="335.8,380.92 333.9,384.22 337.7,384.22" fill="#5aaa3c" stroke="#5aaa3c" stroke-width="0.3"/>
<polygon points="337.5,384.32 335.6,387.62 339.4,387.62" fill="#5aaa3c" stroke="#5aaa3c" stroke-width="0.3"/>
<circle cx="297.7" cy="326.3" r="1.7" fill="#1c3d85"/>
<circle cx="300.6" cy="328.7" r="1.7" fill="#1c3d85"/>
<circle cx="302.3" cy="330.4" r="1.7" fill="#1c3d85"/>
<circle cx="304" cy="332.1" r="1.7" fill="#1c3d85"/>
<circle cx="306.3" cy="335" r="1.7" fill="#1c3d85"/>
<circle cx="312.7" cy="339.6" r="1.7" fill="#1c3d85"/>
<circle cx="314.4" cy="341.3" r="1.7" fill="#1c3d85"/>
<circle cx="316.2" cy="344.2" r="1.7" fill="#1c3d85"/>
<circle cx="324.2" cy="347.1" r="1.7" fill="#1c3d85"/>
<circle cx="325.4" cy="351.2" r="1.7" fill="#1c3d85"/>
<circle cx="328.3" cy="356.3" r="1.7" fill="#1c3d85"/>
<circle cx="332.9" cy="358.1" r="1.7" fill="#1c3d85"/>
<circle cx="336.3" cy="361.5" r="1.7" fill="#1c3d85"/>
<circle cx="360.2" cy="363.7" r="1.7" fill="#1c3d85"/>
<circle cx="369.7" cy="366.2" r="1.7" fill="#1c3d85"/>
<circle cx="384.1" cy="368.5" r="1.7" fill="#1c3d85"/>
<circle cx="389.6" cy="368.5" r="1.7" fill="#1c3d85"/>
<circle cx="298.6" cy="331" r="1.6" fill="#fff" stroke="#c0143c" stroke-width="1.15"/>
<circle cx="299.8" cy="333.6" r="1.6" fill="#fff" stroke="#c0143c" stroke-width="1.15"/>
<circle cx="300.6" cy="340.2" r="1.6" fill="#fff" stroke="#c0143c" stroke-width="1.15"/>
<circle cx="302.3" cy="343.1" r="1.6" fill="#fff" stroke="#c0143c" stroke-width="1.15"/>
<circle cx="303.2" cy="347.7" r="1.6" fill="#fff" stroke="#c0143c" stroke-width="1.15"/>
<circle cx="304.8" cy="350.9" r="1.6" fill="#fff" stroke="#c0143c" stroke-width="1.15"/>
<circle cx="308.1" cy="353.5" r="1.6" fill="#fff" stroke="#c0143c" stroke-width="1.15"/>
<circle cx="309.5" cy="355.8" r="1.6" fill="#fff" stroke="#c0143c" stroke-width="1.15"/>
<circle cx="312.7" cy="358.7" r="1.6" fill="#fff" stroke="#c0143c" stroke-width="1.15"/>
<circle cx="315.2" cy="361" r="1.6" fill="#fff" stroke="#c0143c" stroke-width="1.15"/>
<circle cx="318.5" cy="365.6" r="1.6" fill="#fff" stroke="#c0143c" stroke-width="1.15"/>
<circle cx="319.6" cy="368.5" r="1.6" fill="#fff" stroke="#c0143c" stroke-width="1.15"/>
<circle cx="323.7" cy="370.8" r="1.6" fill="#fff" stroke="#c0143c" stroke-width="1.15"/>
<circle cx="324.8" cy="373.7" r="1.6" fill="#fff" stroke="#c0143c" stroke-width="1.15"/>
<circle cx="326" cy="376.5" r="1.6" fill="#fff" stroke="#c0143c" stroke-width="1.15"/>
<circle cx="327.7" cy="381.2" r="1.6" fill="#fff" stroke="#c0143c" stroke-width="1.15"/>
<circle cx="338.7" cy="384" r="1.6" fill="#fff" stroke="#c0143c" stroke-width="1.15"/>
<circle cx="349.5" cy="386.5" r="1.6" fill="#fff" stroke="#c0143c" stroke-width="1.15"/>
<circle cx="389.6" cy="386.5" r="1.6" fill="#fff" stroke="#c0143c" stroke-width="1.15"/>
<line x1="393.8" y1="324.6" x2="402.6" y2="324.6" stroke="#c0143c" stroke-width="1.0" />
<circle cx="398.3" cy="324.6" r="1.9" fill="#fff" stroke="#c0143c" stroke-width="1.15"/>
<line x1="393.8" y1="334.8" x2="402.6" y2="334.8" stroke="#1c3d85" stroke-width="1.0" />
<circle cx="398.3" cy="334.8" r="1.7" fill="#1c3d85"/>
<line x1="393.8" y1="346.2" x2="402.6" y2="346.2" stroke="#5aaa3c" stroke-width="1.0" />
<polygon points="398.3,343.9 396.1,347.73 400.5,347.73" fill="#5aaa3c" stroke="#5aaa3c" stroke-width="0.3"/>
<text x="405.4" y="327.2" font-size="7.3" text-anchor="start" fill="#1a1a1a" >clg</text>
<text x="405.4" y="337.4" font-size="6.7" text-anchor="start" fill="#1a1a1a" >anti-TIGIT</text>
<text x="405.4" y="348.6" font-size="6.8" text-anchor="start" fill="#1a1a1a" >anti-PD-1</text>
<line x1="448.5" y1="322.6" x2="448.5" y2="334.3" stroke="#333" stroke-width="1.0" />
<path d="M452.3 325.75L452.3 328.25M453.38 326.38L451.22 327.62M453.38 327.62L451.22 326.38" stroke="#333" stroke-width="0.85" fill="none"/>
<path d="M455.4 325.75L455.4 328.25M456.48 326.38L454.32 327.62M456.48 327.62L454.32 326.38" stroke="#333" stroke-width="0.85" fill="none"/>
<line x1="448.5" y1="337.4" x2="448.5" y2="348.5" stroke="#333" stroke-width="1.0" />
<path d="M453.2 341.35L453.2 343.85M454.28 341.98L452.12 343.23M454.28 343.23L452.12 341.98" stroke="#333" stroke-width="0.85" fill="none"/>
<text x="7.2" y="449.2" font-size="10" text-anchor="start" fill="#1a1a1a" >J</text>
<line x1="40" y1="449.8" x2="40" y2="520.8" stroke="#1a1a1a" stroke-width="1.0" />
<line x1="37.2" y1="520.3" x2="40" y2="520.3" stroke="#1a1a1a" stroke-width="1.0" />
<text x="0" y="0" font-size="7.1" text-anchor="end" fill="#1a1a1a" transform="translate(33.9 522.86) scale(0.95 1)" >0</text>
<line x1="37.2" y1="488.25" x2="40" y2="488.25" stroke="#1a1a1a" stroke-width="1.0" />
<text x="0" y="0" font-size="7.1" text-anchor="end" fill="#1a1a1a" transform="translate(33.9 490.81) scale(0.95 1)" >50</text>
<line x1="37.2" y1="456.2" x2="40" y2="456.2" stroke="#1a1a1a" stroke-width="1.0" />
<text x="0" y="0" font-size="7.1" text-anchor="end" fill="#1a1a1a" transform="translate(33.9 458.76) scale(0.95 1)" >100</text>
<line x1="39.5" y1="520.3" x2="142" y2="520.3" stroke="#1a1a1a" stroke-width="1.0" />
<line x1="40" y1="520.3" x2="40" y2="522.9" stroke="#1a1a1a" stroke-width="1.0" />
<text x="0" y="0" font-size="7.1" text-anchor="middle" fill="#1a1a1a" transform="translate(40 532.9) scale(0.95 1)" >0</text>
<line x1="65" y1="520.3" x2="65" y2="522.9" stroke="#1a1a1a" stroke-width="1.0" />
<text x="0" y="0" font-size="7.1" text-anchor="middle" fill="#1a1a1a" transform="translate(65 532.9) scale(0.95 1)" >20</text>
<line x1="90" y1="520.3" x2="90" y2="522.9" stroke="#1a1a1a" stroke-width="1.0" />
<text x="0" y="0" font-size="7.1" text-anchor="middle" fill="#1a1a1a" transform="translate(90 532.9) scale(0.95 1)" >40</text>
<line x1="115" y1="520.3" x2="115" y2="522.9" stroke="#1a1a1a" stroke-width="1.0" />
<text x="0" y="0" font-size="7.1" text-anchor="middle" fill="#1a1a1a" transform="translate(115 532.9) scale(0.95 1)" >60</text>
<line x1="140" y1="520.3" x2="140" y2="522.9" stroke="#1a1a1a" stroke-width="1.0" />
<text x="0" y="0" font-size="7.1" text-anchor="middle" fill="#1a1a1a" transform="translate(140 532.9) scale(0.95 1)" >80</text>
<text x="15" y="484.5" font-size="8.6" text-anchor="middle" fill="#1a1a1a" transform="rotate(-90 15 484.5)" >Survival (%)</text>
<text x="20.8" y="546" font-size="8.75" text-anchor="start" fill="#1a1a1a" >Days post Vk12598 MM cell injection</text>
<polyline points="40,456.4 79.8,456.4 79.8,462.3 88,462.3 88,467.5 88.9,467.5 88.9,472.8 92.7,472.8 92.7,478.3 102.4,478.3 102.4,483.4 117,483.4 117,488.5 130,488.5 130,493.5 140.5,493.5 140.5,498.8" fill="none" stroke="#1c3d85" stroke-width="1.0" stroke-linejoin="miter"/>
<polyline points="40,456.4 70,456.4 70,463.1 75,463.1 75,468.5 77.2,468.5 77.2,473.3 78.2,473.3 78.2,490.6 79.8,490.6 79.8,503.5 81.7,503.5 81.7,508.7 82.8,508.7 82.8,520.3" fill="none" stroke="#1c3d85" stroke-width="1.0" stroke-linejoin="miter"/>
<polyline points="40,456.4 72.3,456.4 72.3,462.3 76,462.3 76,468 76.5,468 76.5,474 77.2,474 77.2,480 77.6,480 77.6,486 78,486 78,492 78.3,492 78.3,498 77.8,498 77.8,507.6 78.4,507.6 78.4,513.4 86.3,513.4 86.3,519.3" fill="none" stroke="#c0143c" stroke-width="1.0" stroke-linejoin="miter"/>
<polyline points="40,456.4 64.9,456.4 64.9,462 73.7,462 73.7,472.5 76.3,472.5 76.3,478.3 77.8,478.3 77.8,488.9 81.3,488.9 81.3,493.9 84,493.9 84,499 86,499 86,504.9 93.6,504.9 93.6,515.4 102.4,515.4 102.4,520.3" fill="none" stroke="#c0143c" stroke-width="1.0" stroke-linejoin="miter"/>
<circle cx="79.8" cy="462.3" r="1.75" fill="#1c3d85"/>
<circle cx="88" cy="467.5" r="1.75" fill="#1c3d85"/>
<circle cx="88.9" cy="472.8" r="1.75" fill="#1c3d85"/>
<circle cx="92.7" cy="478.3" r="1.75" fill="#1c3d85"/>
<circle cx="102.4" cy="483.4" r="1.75" fill="#1c3d85"/>
<circle cx="117" cy="488.5" r="1.75" fill="#1c3d85"/>
<circle cx="130" cy="493.5" r="1.75" fill="#1c3d85"/>
<circle cx="140.5" cy="498.8" r="1.75" fill="#1c3d85"/>
<polygon points="70,465.4 67.8,461.57 72.2,461.57" fill="#1c3d85" stroke="#1c3d85" stroke-width="0.3"/>
<polygon points="77.2,475.6 75,471.77 79.4,471.77" fill="#1c3d85" stroke="#1c3d85" stroke-width="0.3"/>
<polygon points="78.2,492.9 76,489.07 80.4,489.07" fill="#1c3d85" stroke="#1c3d85" stroke-width="0.3"/>
<polygon points="79.8,505.8 77.6,501.97 82,501.97" fill="#1c3d85" stroke="#1c3d85" stroke-width="0.3"/>
<polygon points="81.7,511 79.5,507.17 83.9,507.17" fill="#1c3d85" stroke="#1c3d85" stroke-width="0.3"/>
<polygon points="82.8,522.6 80.6,518.77 85,518.77" fill="#1c3d85" stroke="#1c3d85" stroke-width="0.3"/>
<polygon points="72.3,464.6 70.1,460.77 74.5,460.77" fill="#fff" stroke="#c0143c" stroke-width="1.05"/>
<polygon points="77.8,509.9 75.6,506.07 80,506.07" fill="#fff" stroke="#c0143c" stroke-width="1.05"/>
<polygon points="78.4,515.7 76.2,511.87 80.6,511.87" fill="#fff" stroke="#c0143c" stroke-width="1.05"/>
<polygon points="86.3,521.6 84.1,517.77 88.5,517.77" fill="#fff" stroke="#c0143c" stroke-width="1.05"/>
<circle cx="64.9" cy="462" r="1.6" fill="#fff" stroke="#c0143c" stroke-width="1.15"/>
<circle cx="73.7" cy="472.5" r="1.6" fill="#fff" stroke="#c0143c" stroke-width="1.15"/>
<circle cx="76.3" cy="478.3" r="1.6" fill="#fff" stroke="#c0143c" stroke-width="1.15"/>
<circle cx="77.8" cy="488.9" r="1.6" fill="#fff" stroke="#c0143c" stroke-width="1.15"/>
<circle cx="81.3" cy="493.9" r="1.6" fill="#fff" stroke="#c0143c" stroke-width="1.15"/>
<circle cx="84" cy="499" r="1.6" fill="#fff" stroke="#c0143c" stroke-width="1.15"/>
<circle cx="86" cy="504.9" r="1.6" fill="#fff" stroke="#c0143c" stroke-width="1.15"/>
<circle cx="93.6" cy="515.4" r="1.6" fill="#fff" stroke="#c0143c" stroke-width="1.15"/>
<circle cx="102.4" cy="520.3" r="1.6" fill="#fff" stroke="#c0143c" stroke-width="1.15"/>
<line x1="153.9" y1="462.7" x2="162.3" y2="462.7" stroke="#c0143c" stroke-width="1.0" />
<circle cx="158.6" cy="462.7" r="1.9" fill="#fff" stroke="#c0143c" stroke-width="1.15"/>
<text x="165.7" y="465.2" font-size="7.1" text-anchor="start" fill="#1a1a1a" >clg + clg</text>
<line x1="153.9" y1="472.8" x2="162.3" y2="472.8" stroke="#c0143c" stroke-width="1.0" />
<polygon points="158.6,475.2 156.3,471.2 160.9,471.2" fill="#fff" stroke="#c0143c" stroke-width="1.1"/>
<text x="165.7" y="475.3" font-size="7.0" text-anchor="start" fill="#1a1a1a" >clg + anti-CD8&#946;</text>
<line x1="153.9" y1="482.8" x2="162.3" y2="482.8" stroke="#1c3d85" stroke-width="1.0" />
<circle cx="158.6" cy="482.8" r="1.7" fill="#1c3d85"/>
<text x="165.7" y="485.3" font-size="6.9" text-anchor="start" fill="#1a1a1a" >anti-TIGIT + clg</text>
<line x1="153.9" y1="492.7" x2="162.3" y2="492.7" stroke="#1c3d85" stroke-width="1.0" />
<polygon points="158.6,495.1 156.3,491.1 160.9,491.1" fill="#1c3d85" stroke="#1c3d85" stroke-width="0.3"/>
<text x="165.7" y="495.2" font-size="6.9" text-anchor="start" fill="#1a1a1a" >anti-TIGIT + anti-CD8&#946;</text>
<line x1="225" y1="457.4" x2="225" y2="482.8" stroke="#333" stroke-width="1.0" />
<path d="M230 469.95L230 472.45M231.08 470.57L228.92 471.82M231.08 471.82L228.92 470.57" stroke="#333" stroke-width="0.85" fill="none"/>
<path d="M233.1 469.95L233.1 472.45M234.18 470.57L232.02 471.82M234.18 471.82L232.02 470.57" stroke="#333" stroke-width="0.85" fill="none"/>
<path d="M236.2 469.95L236.2 472.45M237.28 470.57L235.12 471.82M237.28 471.82L235.12 470.57" stroke="#333" stroke-width="0.85" fill="none"/>
<line x1="246.2" y1="489" x2="246.2" y2="498.3" stroke="#333" stroke-width="1.0" />
<path d="M249 490.65L249 493.15M250.08 491.27L247.92 492.52M250.08 492.52L247.92 491.27" stroke="#333" stroke-width="0.85" fill="none"/>
<path d="M252.1 490.65L252.1 493.15M253.18 491.27L251.02 492.52M253.18 492.52L251.02 491.27" stroke="#333" stroke-width="0.85" fill="none"/>
<path d="M255.2 490.65L255.2 493.15M256.28 491.27L254.12 492.52M256.28 492.52L254.12 491.27" stroke="#333" stroke-width="0.85" fill="none"/>
<path d="M258.3 490.65L258.3 493.15M259.38 491.27L257.22 492.52M259.38 492.52L257.22 491.27" stroke="#333" stroke-width="0.85" fill="none"/>
<text x="276" y="449.4" font-size="10" text-anchor="start" fill="#1a1a1a" >K</text>
<line x1="308.8" y1="454.2" x2="308.8" y2="520.5" stroke="#1a1a1a" stroke-width="1.0" />
<line x1="306" y1="520" x2="308.8" y2="520" stroke="#1a1a1a" stroke-width="1.0" />
<text x="0" y="0" font-size="7.1" text-anchor="end" fill="#1a1a1a" transform="translate(302.7 522.56) scale(0.95 1)" >0</text>
<line x1="306" y1="490.3" x2="308.8" y2="490.3" stroke="#1a1a1a" stroke-width="1.0" />
<text x="0" y="0" font-size="7.1" text-anchor="end" fill="#1a1a1a" transform="translate(302.7 492.86) scale(0.95 1)" >50</text>
<line x1="306" y1="460.6" x2="308.8" y2="460.6" stroke="#1a1a1a" stroke-width="1.0" />
<text x="0" y="0" font-size="7.1" text-anchor="end" fill="#1a1a1a" transform="translate(302.7 463.16) scale(0.95 1)" >100</text>
<line x1="308.3" y1="520" x2="409.6" y2="520" stroke="#1a1a1a" stroke-width="1.0" />
<line x1="308.8" y1="520" x2="308.8" y2="522.6" stroke="#1a1a1a" stroke-width="1.0" />
<text x="0" y="0" font-size="7.1" text-anchor="middle" fill="#1a1a1a" transform="translate(308.8 532.4) scale(0.95 1)" >0</text>
<line x1="358.1" y1="520" x2="358.1" y2="522.6" stroke="#1a1a1a" stroke-width="1.0" />
<text x="0" y="0" font-size="7.1" text-anchor="middle" fill="#1a1a1a" transform="translate(358.1 532.4) scale(0.95 1)" >20</text>
<line x1="407.4" y1="520" x2="407.4" y2="522.6" stroke="#1a1a1a" stroke-width="1.0" />
<text x="0" y="0" font-size="7.1" text-anchor="middle" fill="#1a1a1a" transform="translate(407.4 532.4) scale(0.95 1)" >40</text>
<text x="284.4" y="486.9" font-size="8.6" text-anchor="middle" fill="#1a1a1a" transform="rotate(-90 284.4 486.9)" >Survival (%)</text>
<text x="290" y="546" font-size="8.75" text-anchor="start" fill="#1a1a1a" >Days post 5TGM1 MM cell injection</text>
<polyline points="308.8,460.5 375,460.5 375,484.8 382.3,484.8 382.3,508.5 387.1,508.5 387.1,520" fill="none" stroke="#1c3d85" stroke-width="1.0" stroke-linejoin="miter"/>
<polyline points="308.8,460.5 369.8,460.5 369.8,496.5 372.3,496.5 372.3,520" fill="none" stroke="#c0143c" stroke-width="1.0" stroke-linejoin="miter"/>
<circle cx="375" cy="484.8" r="1.75" fill="#1c3d85"/>
<circle cx="382.3" cy="508.5" r="1.75" fill="#1c3d85"/>
<circle cx="387.1" cy="520" r="1.75" fill="#1c3d85"/>
<circle cx="369.8" cy="496.5" r="1.7" fill="#fff" stroke="#c0143c" stroke-width="1.15"/>
<circle cx="372.3" cy="520" r="1.7" fill="#fff" stroke="#c0143c" stroke-width="1.15"/>
<line x1="391" y1="458.1" x2="400.6" y2="458.1" stroke="#c0143c" stroke-width="1.0" />
<circle cx="395.8" cy="458.1" r="1.9" fill="#fff" stroke="#c0143c" stroke-width="1.15"/>
<line x1="391" y1="469.6" x2="400.6" y2="469.6" stroke="#1c3d85" stroke-width="1.0" />
<circle cx="395.8" cy="469.6" r="1.7" fill="#1c3d85"/>
<text x="403.5" y="460.6" font-size="7.3" text-anchor="start" fill="#1a1a1a" >clg</text>
<text x="403.5" y="472.1" font-size="6.9" text-anchor="start" fill="#1a1a1a" >anti-TIGIT</text>
<line x1="444.1" y1="458" x2="444.1" y2="469.5" stroke="#333" stroke-width="1.0" />
<path d="M448 460.85L448 463.35M449.08 461.48L446.92 462.73M449.08 462.73L446.92 461.48" stroke="#333" stroke-width="0.85" fill="none"/>
<path d="M451.1 460.85L451.1 463.35M452.18 461.48L450.02 462.73M452.18 462.73L450.02 461.48" stroke="#333" stroke-width="0.85" fill="none"/>
<text x="11.5" y="572.9" font-size="10" text-anchor="start" fill="#1a1a1a" >L</text>
<line x1="39.7" y1="577.5" x2="39.7" y2="642.3" stroke="#1a1a1a" stroke-width="1.0" />
<line x1="36.9" y1="641.8" x2="39.7" y2="641.8" stroke="#1a1a1a" stroke-width="1.0" />
<text x="0" y="0" font-size="7.1" text-anchor="end" fill="#1a1a1a" transform="translate(33.6 644.36) scale(0.95 1)" >0</text>
<line x1="36.9" y1="621.35" x2="39.7" y2="621.35" stroke="#1a1a1a" stroke-width="1.0" />
<text x="0" y="0" font-size="7.1" text-anchor="end" fill="#1a1a1a" transform="translate(33.6 623.91) scale(0.95 1)" >20</text>
<line x1="36.9" y1="600.9" x2="39.7" y2="600.9" stroke="#1a1a1a" stroke-width="1.0" />
<text x="0" y="0" font-size="7.1" text-anchor="end" fill="#1a1a1a" transform="translate(33.6 603.46) scale(0.95 1)" >40</text>
<line x1="36.9" y1="580.45" x2="39.7" y2="580.45" stroke="#1a1a1a" stroke-width="1.0" />
<text x="0" y="0" font-size="7.1" text-anchor="end" fill="#1a1a1a" transform="translate(33.6 583.01) scale(0.95 1)" >60</text>
<line x1="39.2" y1="641.8" x2="73.9" y2="641.8" stroke="#1a1a1a" stroke-width="1.0" />
<line x1="50.3" y1="641.8" x2="50.3" y2="644.4" stroke="#1a1a1a" stroke-width="1.0" />
<line x1="66.8" y1="641.8" x2="66.8" y2="644.4" stroke="#1a1a1a" stroke-width="1.0" />
<line x1="50.3" y1="608.3" x2="66.8" y2="587.4" stroke="#111" stroke-width="0.95" />
<line x1="50.3" y1="610.9" x2="66.8" y2="612.8" stroke="#111" stroke-width="0.95" />
<line x1="50.3" y1="617.8" x2="66.8" y2="591.6" stroke="#111" stroke-width="0.95" />
<line x1="50.3" y1="619.2" x2="66.8" y2="600.7" stroke="#111" stroke-width="0.95" />
<line x1="50.3" y1="620.4" x2="66.8" y2="605.2" stroke="#111" stroke-width="0.95" />
<line x1="50.3" y1="625.4" x2="66.8" y2="609" stroke="#111" stroke-width="0.95" />
<line x1="50.3" y1="627.1" x2="66.8" y2="616.6" stroke="#111" stroke-width="0.95" />
<line x1="50.3" y1="629.4" x2="66.8" y2="618.5" stroke="#111" stroke-width="0.95" />
<line x1="50.3" y1="632.8" x2="66.8" y2="620.4" stroke="#111" stroke-width="0.95" />
<line x1="50.3" y1="634.9" x2="66.8" y2="627.1" stroke="#111" stroke-width="0.95" />
<line x1="50.3" y1="636.8" x2="66.8" y2="630.9" stroke="#111" stroke-width="0.95" />
<line x1="50.3" y1="638.5" x2="66.8" y2="632.1" stroke="#111" stroke-width="0.95" />
<line x1="50.3" y1="639.9" x2="66.8" y2="636.3" stroke="#111" stroke-width="0.95" />
<line x1="50.3" y1="620.4" x2="66.8" y2="616.6" stroke="#111" stroke-width="0.95" />
<line x1="50.3" y1="629.4" x2="66.8" y2="627.1" stroke="#111" stroke-width="0.95" />
<circle cx="50.3" cy="608.3" r="1.6" fill="#fff" stroke="#c0143c" stroke-width="1.15"/>
<circle cx="50.3" cy="610.9" r="1.6" fill="#fff" stroke="#c0143c" stroke-width="1.15"/>
<circle cx="50.3" cy="617.8" r="1.6" fill="#fff" stroke="#c0143c" stroke-width="1.15"/>
<circle cx="50.3" cy="619.2" r="1.6" fill="#fff" stroke="#c0143c" stroke-width="1.15"/>
<circle cx="50.3" cy="620.4" r="1.6" fill="#fff" stroke="#c0143c" stroke-width="1.15"/>
<circle cx="50.3" cy="625.4" r="1.6" fill="#fff" stroke="#c0143c" stroke-width="1.15"/>
<circle cx="50.3" cy="627.1" r="1.6" fill="#fff" stroke="#c0143c" stroke-width="1.15"/>
<circle cx="50.3" cy="629.4" r="1.6" fill="#fff" stroke="#c0143c" stroke-width="1.15"/>
<circle cx="50.3" cy="632.8" r="1.6" fill="#fff" stroke="#c0143c" stroke-width="1.15"/>
<circle cx="50.3" cy="634.9" r="1.6" fill="#fff" stroke="#c0143c" stroke-width="1.15"/>
<circle cx="50.3" cy="636.8" r="1.6" fill="#fff" stroke="#c0143c" stroke-width="1.15"/>
<circle cx="50.3" cy="638.5" r="1.6" fill="#fff" stroke="#c0143c" stroke-width="1.15"/>
<circle cx="50.3" cy="639.9" r="1.6" fill="#fff" stroke="#c0143c" stroke-width="1.15"/>
<circle cx="66.8" cy="587.4" r="1.45" fill="#1c3d85"/>
<circle cx="66.8" cy="591.6" r="1.45" fill="#1c3d85"/>
<circle cx="66.8" cy="600.7" r="1.45" fill="#1c3d85"/>
<circle cx="66.8" cy="605.2" r="1.45" fill="#1c3d85"/>
<circle cx="66.8" cy="609" r="1.45" fill="#1c3d85"/>
<circle cx="66.8" cy="612.8" r="1.45" fill="#1c3d85"/>
<circle cx="66.8" cy="616.6" r="1.45" fill="#1c3d85"/>
<circle cx="66.8" cy="618.5" r="1.45" fill="#1c3d85"/>
<circle cx="66.8" cy="620.4" r="1.45" fill="#1c3d85"/>
<circle cx="66.8" cy="627.1" r="1.45" fill="#1c3d85"/>
<circle cx="66.8" cy="630.9" r="1.45" fill="#1c3d85"/>
<circle cx="66.8" cy="632.1" r="1.45" fill="#1c3d85"/>
<circle cx="66.8" cy="636.3" r="1.45" fill="#1c3d85"/>
<line x1="49.4" y1="583.6" x2="65.6" y2="583.6" stroke="#333" stroke-width="0.9" />
<path d="M53.15 579.85L53.15 582.35M54.23 580.48L52.07 581.73M54.23 581.73L52.07 580.48" stroke="#333" stroke-width="0.85" fill="none"/>
<path d="M56.05 579.85L56.05 582.35M57.13 580.48L54.97 581.73M57.13 581.73L54.97 580.48" stroke="#333" stroke-width="0.85" fill="none"/>
<path d="M58.95 579.85L58.95 582.35M60.03 580.48L57.87 581.73M60.03 581.73L57.87 580.48" stroke="#333" stroke-width="0.85" fill="none"/>
<path d="M61.85 579.85L61.85 582.35M62.93 580.48L60.77 581.73M62.93 581.73L60.77 580.48" stroke="#333" stroke-width="0.85" fill="none"/>
<text x="19.2" y="609.2" font-size="8.45" text-anchor="middle" fill="#1a1a1a" transform="rotate(-90 19.2 609.2)" >TNF&#945; (%)</text>
<text x="51.3" y="650.6" font-size="7.3" text-anchor="end" fill="#1a1a1a" transform="rotate(-45 51.3 650.6)" >clg</text>
<text x="72.4" y="651" font-size="6.9" text-anchor="end" fill="#1a1a1a" transform="rotate(-45 72.4 651)" >anti-TIGIT</text>
<line x1="105.5" y1="577.5" x2="105.5" y2="642.3" stroke="#1a1a1a" stroke-width="1.0" />
<line x1="102.7" y1="641.8" x2="105.5" y2="641.8" stroke="#1a1a1a" stroke-width="1.0" />
<text x="0" y="0" font-size="7.1" text-anchor="end" fill="#1a1a1a" transform="translate(99.4 644.36) scale(0.95 1)" >0</text>
<line x1="102.7" y1="629.42" x2="105.5" y2="629.42" stroke="#1a1a1a" stroke-width="1.0" />
<text x="0" y="0" font-size="7.1" text-anchor="end" fill="#1a1a1a" transform="translate(99.4 631.98) scale(0.95 1)" >10</text>
<line x1="102.7" y1="617.04" x2="105.5" y2="617.04" stroke="#1a1a1a" stroke-width="1.0" />
<text x="0" y="0" font-size="7.1" text-anchor="end" fill="#1a1a1a" transform="translate(99.4 619.6) scale(0.95 1)" >20</text>
<line x1="102.7" y1="604.66" x2="105.5" y2="604.66" stroke="#1a1a1a" stroke-width="1.0" />
<text x="0" y="0" font-size="7.1" text-anchor="end" fill="#1a1a1a" transform="translate(99.4 607.22) scale(0.95 1)" >30</text>
<line x1="102.7" y1="592.28" x2="105.5" y2="592.28" stroke="#1a1a1a" stroke-width="1.0" />
<text x="0" y="0" font-size="7.1" text-anchor="end" fill="#1a1a1a" transform="translate(99.4 594.84) scale(0.95 1)" >40</text>
<line x1="102.7" y1="579.9" x2="105.5" y2="579.9" stroke="#1a1a1a" stroke-width="1.0" />
<text x="0" y="0" font-size="7.1" text-anchor="end" fill="#1a1a1a" transform="translate(99.4 582.46) scale(0.95 1)" >50</text>
<line x1="105" y1="641.8" x2="140" y2="641.8" stroke="#1a1a1a" stroke-width="1.0" />
<line x1="116.2" y1="641.8" x2="116.2" y2="644.4" stroke="#1a1a1a" stroke-width="1.0" />
<line x1="132.8" y1="641.8" x2="132.8" y2="644.4" stroke="#1a1a1a" stroke-width="1.0" />
<line x1="116.2" y1="594.6" x2="132.8" y2="594.6" stroke="#111" stroke-width="0.95" />
<line x1="116.2" y1="600.8" x2="132.8" y2="600.7" stroke="#111" stroke-width="0.95" />
<line x1="116.2" y1="615" x2="132.8" y2="605" stroke="#111" stroke-width="0.95" />
<line x1="116.2" y1="619.2" x2="132.8" y2="606.3" stroke="#111" stroke-width="0.95" />
<line x1="116.2" y1="621.4" x2="132.8" y2="597.5" stroke="#111" stroke-width="0.95" />
<line x1="116.2" y1="627.6" x2="132.8" y2="615.4" stroke="#111" stroke-width="0.95" />
<line x1="116.2" y1="629.5" x2="132.8" y2="619.2" stroke="#111" stroke-width="0.95" />
<line x1="116.2" y1="631.4" x2="132.8" y2="621.4" stroke="#111" stroke-width="0.95" />
<line x1="116.2" y1="633.3" x2="132.8" y2="625.2" stroke="#111" stroke-width="0.95" />
<line x1="116.2" y1="635.8" x2="132.8" y2="626.7" stroke="#111" stroke-width="0.95" />
<line x1="116.2" y1="638" x2="132.8" y2="631.4" stroke="#111" stroke-width="0.95" />
<line x1="116.2" y1="640.3" x2="132.8" y2="632.7" stroke="#111" stroke-width="0.95" />
<line x1="116.2" y1="641.4" x2="132.8" y2="638" stroke="#111" stroke-width="0.95" />
<line x1="116.2" y1="629.5" x2="132.8" y2="606.3" stroke="#111" stroke-width="0.95" />
<circle cx="116.2" cy="594.6" r="1.6" fill="#fff" stroke="#c0143c" stroke-width="1.15"/>
<circle cx="116.2" cy="600.8" r="1.6" fill="#fff" stroke="#c0143c" stroke-width="1.15"/>
<circle cx="116.2" cy="615" r="1.6" fill="#fff" stroke="#c0143c" stroke-width="1.15"/>
<circle cx="116.2" cy="619.2" r="1.6" fill="#fff" stroke="#c0143c" stroke-width="1.15"/>
<circle cx="116.2" cy="621.4" r="1.6" fill="#fff" stroke="#c0143c" stroke-width="1.15"/>
<circle cx="116.2" cy="627.6" r="1.6" fill="#fff" stroke="#c0143c" stroke-width="1.15"/>
<circle cx="116.2" cy="629.5" r="1.6" fill="#fff" stroke="#c0143c" stroke-width="1.15"/>
<circle cx="116.2" cy="631.4" r="1.6" fill="#fff" stroke="#c0143c" stroke-width="1.15"/>
<circle cx="116.2" cy="633.3" r="1.6" fill="#fff" stroke="#c0143c" stroke-width="1.15"/>
<circle cx="116.2" cy="635.8" r="1.6" fill="#fff" stroke="#c0143c" stroke-width="1.15"/>
<circle cx="116.2" cy="638" r="1.6" fill="#fff" stroke="#c0143c" stroke-width="1.15"/>
<circle cx="116.2" cy="640.3" r="1.6" fill="#fff" stroke="#c0143c" stroke-width="1.15"/>
<circle cx="116.2" cy="641.4" r="1.6" fill="#fff" stroke="#c0143c" stroke-width="1.15"/>
<circle cx="132.8" cy="594.6" r="1.45" fill="#1c3d85"/>
<circle cx="132.8" cy="597.5" r="1.45" fill="#1c3d85"/>
<circle cx="132.8" cy="600.7" r="1.45" fill="#1c3d85"/>
<circle cx="132.8" cy="605" r="1.45" fill="#1c3d85"/>
<circle cx="132.8" cy="606.3" r="1.45" fill="#1c3d85"/>
<circle cx="132.8" cy="615.4" r="1.45" fill="#1c3d85"/>
<circle cx="132.8" cy="619.2" r="1.45" fill="#1c3d85"/>
<circle cx="132.8" cy="621.4" r="1.45" fill="#1c3d85"/>
<circle cx="132.8" cy="625.2" r="1.45" fill="#1c3d85"/>
<circle cx="132.8" cy="626.7" r="1.45" fill="#1c3d85"/>
<circle cx="132.8" cy="631.4" r="1.45" fill="#1c3d85"/>
<circle cx="132.8" cy="632.7" r="1.45" fill="#1c3d85"/>
<circle cx="132.8" cy="638" r="1.45" fill="#1c3d85"/>
<line x1="116.8" y1="585.2" x2="134.7" y2="585.2" stroke="#333" stroke-width="0.9" />
<path d="M121.4 581.45L121.4 583.95M122.48 582.08L120.32 583.33M122.48 583.33L120.32 582.08" stroke="#333" stroke-width="0.85" fill="none"/>
<path d="M124.3 581.45L124.3 583.95M125.38 582.08L123.22 583.33M125.38 583.33L123.22 582.08" stroke="#333" stroke-width="0.85" fill="none"/>
<path d="M127.2 581.45L127.2 583.95M128.28 582.08L126.12 583.33M128.28 583.33L126.12 582.08" stroke="#333" stroke-width="0.85" fill="none"/>
<path d="M130.1 581.45L130.1 583.95M131.18 582.08L129.02 583.33M131.18 583.33L129.02 582.08" stroke="#333" stroke-width="0.85" fill="none"/>
<text x="86.4" y="609.3" font-size="8.3" text-anchor="middle" fill="#1a1a1a" transform="rotate(-90 86.4 609.3)" >IFN&#947;&#160;&#160;(%)</text>
<text x="117.2" y="650.6" font-size="7.3" text-anchor="end" fill="#1a1a1a" transform="rotate(-45 117.2 650.6)" >clg</text>
<text x="138.4" y="651" font-size="6.9" text-anchor="end" fill="#1a1a1a" transform="rotate(-45 138.4 651)" >anti-TIGIT</text>
<line x1="171.1" y1="577.5" x2="171.1" y2="642.3" stroke="#1a1a1a" stroke-width="1.0" />
<line x1="168.3" y1="641.8" x2="171.1" y2="641.8" stroke="#1a1a1a" stroke-width="1.0" />
<text x="0" y="0" font-size="7.1" text-anchor="end" fill="#1a1a1a" transform="translate(165 644.36) scale(0.95 1)" >0</text>
<line x1="168.3" y1="621.2" x2="171.1" y2="621.2" stroke="#1a1a1a" stroke-width="1.0" />
<text x="0" y="0" font-size="7.1" text-anchor="end" fill="#1a1a1a" transform="translate(165 623.76) scale(0.95 1)" >20</text>
<line x1="168.3" y1="600.6" x2="171.1" y2="600.6" stroke="#1a1a1a" stroke-width="1.0" />
<text x="0" y="0" font-size="7.1" text-anchor="end" fill="#1a1a1a" transform="translate(165 603.16) scale(0.95 1)" >40</text>
<line x1="168.3" y1="580" x2="171.1" y2="580" stroke="#1a1a1a" stroke-width="1.0" />
<text x="0" y="0" font-size="7.1" text-anchor="end" fill="#1a1a1a" transform="translate(165 582.56) scale(0.95 1)" >60</text>
<line x1="170.6" y1="641.8" x2="205.7" y2="641.8" stroke="#1a1a1a" stroke-width="1.0" />
<line x1="182.1" y1="641.8" x2="182.1" y2="644.4" stroke="#1a1a1a" stroke-width="1.0" />
<line x1="198.8" y1="641.8" x2="198.8" y2="644.4" stroke="#1a1a1a" stroke-width="1.0" />
<line x1="182.1" y1="594.9" x2="198.8" y2="589.8" stroke="#111" stroke-width="0.95" />
<line x1="182.1" y1="599.6" x2="198.8" y2="603.8" stroke="#111" stroke-width="0.95" />
<line x1="182.1" y1="605.5" x2="198.8" y2="602.1" stroke="#111" stroke-width="0.95" />
<line x1="182.1" y1="613.4" x2="198.8" y2="583.4" stroke="#111" stroke-width="0.95" />
<line x1="182.1" y1="618.5" x2="198.8" y2="605.2" stroke="#111" stroke-width="0.95" />
<line x1="182.1" y1="621.2" x2="198.8" y2="609.8" stroke="#111" stroke-width="0.95" />
<line x1="182.1" y1="626.2" x2="198.8" y2="613.1" stroke="#111" stroke-width="0.95" />
<line x1="182.1" y1="628" x2="198.8" y2="622.6" stroke="#111" stroke-width="0.95" />
<line x1="182.1" y1="630.2" x2="198.8" y2="625.1" stroke="#111" stroke-width="0.95" />
<line x1="182.1" y1="632.3" x2="198.8" y2="629.7" stroke="#111" stroke-width="0.95" />
<line x1="182.1" y1="634.3" x2="198.8" y2="631.8" stroke="#111" stroke-width="0.95" />
<line x1="182.1" y1="636.4" x2="198.8" y2="631.8" stroke="#111" stroke-width="0.95" />
<line x1="182.1" y1="621.2" x2="198.8" y2="622.6" stroke="#111" stroke-width="0.95" />
<line x1="182.1" y1="630.2" x2="198.8" y2="605.2" stroke="#111" stroke-width="0.95" />
<circle cx="182.1" cy="594.9" r="1.6" fill="#fff" stroke="#c0143c" stroke-width="1.15"/>
<circle cx="182.1" cy="599.6" r="1.6" fill="#fff" stroke="#c0143c" stroke-width="1.15"/>
<circle cx="182.1" cy="605.5" r="1.6" fill="#fff" stroke="#c0143c" stroke-width="1.15"/>
<circle cx="182.1" cy="613.4" r="1.6" fill="#fff" stroke="#c0143c" stroke-width="1.15"/>
<circle cx="182.1" cy="618.5" r="1.6" fill="#fff" stroke="#c0143c" stroke-width="1.15"/>
<circle cx="182.1" cy="621.2" r="1.6" fill="#fff" stroke="#c0143c" stroke-width="1.15"/>
<circle cx="182.1" cy="626.2" r="1.6" fill="#fff" stroke="#c0143c" stroke-width="1.15"/>
<circle cx="182.1" cy="628" r="1.6" fill="#fff" stroke="#c0143c" stroke-width="1.15"/>
<circle cx="182.1" cy="630.2" r="1.6" fill="#fff" stroke="#c0143c" stroke-width="1.15"/>
<circle cx="182.1" cy="632.3" r="1.6" fill="#fff" stroke="#c0143c" stroke-width="1.15"/>
<circle cx="182.1" cy="634.3" r="1.6" fill="#fff" stroke="#c0143c" stroke-width="1.15"/>
<circle cx="182.1" cy="636.4" r="1.6" fill="#fff" stroke="#c0143c" stroke-width="1.15"/>
<circle cx="198.8" cy="583.4" r="1.45" fill="#1c3d85"/>
<circle cx="198.8" cy="589.8" r="1.45" fill="#1c3d85"/>
<circle cx="198.8" cy="602.1" r="1.45" fill="#1c3d85"/>
<circle cx="198.8" cy="603.8" r="1.45" fill="#1c3d85"/>
<circle cx="198.8" cy="605.2" r="1.45" fill="#1c3d85"/>
<circle cx="198.8" cy="609.8" r="1.45" fill="#1c3d85"/>
<circle cx="198.8" cy="613.1" r="1.45" fill="#1c3d85"/>
<circle cx="198.8" cy="622.6" r="1.45" fill="#1c3d85"/>
<circle cx="198.8" cy="625.1" r="1.45" fill="#1c3d85"/>
<circle cx="198.8" cy="629.7" r="1.45" fill="#1c3d85"/>
<circle cx="198.8" cy="631.8" r="1.45" fill="#1c3d85"/>
<line x1="181.7" y1="579.9" x2="199.4" y2="579.9" stroke="#333" stroke-width="0.9" />
<path d="M186.2 576.15L186.2 578.65M187.28 576.77L185.12 578.02M187.28 578.02L185.12 576.77" stroke="#333" stroke-width="0.85" fill="none"/>
<path d="M189.1 576.15L189.1 578.65M190.18 576.77L188.02 578.02M190.18 578.02L188.02 576.77" stroke="#333" stroke-width="0.85" fill="none"/>
<path d="M192 576.15L192 578.65M193.08 576.77L190.92 578.02M193.08 578.02L190.92 576.77" stroke="#333" stroke-width="0.85" fill="none"/>
<path d="M194.9 576.15L194.9 578.65M195.98 576.77L193.82 578.02M195.98 578.02L193.82 576.77" stroke="#333" stroke-width="0.85" fill="none"/>
<text x="151.9" y="610.7" font-size="7.9" text-anchor="middle" fill="#1a1a1a" transform="rotate(-90 151.9 610.7)" >CD107a (%)</text>
<text x="183.1" y="650.6" font-size="7.3" text-anchor="end" fill="#1a1a1a" transform="rotate(-45 183.1 650.6)" >clg</text>
<text x="204.4" y="651" font-size="6.9" text-anchor="end" fill="#1a1a1a" transform="rotate(-45 204.4 651)" >anti-TIGIT</text>
<text x="220.6" y="572.9" font-size="10" text-anchor="start" fill="#1a1a1a" >M</text>
<line x1="258.8" y1="577.5" x2="258.8" y2="642.3" stroke="#1a1a1a" stroke-width="1.0" />
<line x1="256" y1="641.8" x2="258.8" y2="641.8" stroke="#1a1a1a" stroke-width="1.0" />
<text x="0" y="0" font-size="7.1" text-anchor="end" fill="#1a1a1a" transform="translate(252.7 644.36) scale(0.95 1)" >0</text>
<line x1="256" y1="621.35" x2="258.8" y2="621.35" stroke="#1a1a1a" stroke-width="1.0" />
<text x="0" y="0" font-size="7.1" text-anchor="end" fill="#1a1a1a" transform="translate(252.7 623.91) scale(0.95 1)" >500</text>
<line x1="256" y1="600.9" x2="258.8" y2="600.9" stroke="#1a1a1a" stroke-width="1.0" />
<text x="0" y="0" font-size="7.1" text-anchor="end" fill="#1a1a1a" transform="translate(252.7 603.46) scale(0.95 1)" >1000</text>
<line x1="256" y1="580.45" x2="258.8" y2="580.45" stroke="#1a1a1a" stroke-width="1.0" />
<text x="0" y="0" font-size="7.1" text-anchor="end" fill="#1a1a1a" transform="translate(252.7 583.01) scale(0.95 1)" >1500</text>
<line x1="258.3" y1="641.8" x2="292.4" y2="641.8" stroke="#1a1a1a" stroke-width="1.0" />
<line x1="267.5" y1="641.8" x2="267.5" y2="644.4" stroke="#1a1a1a" stroke-width="1.0" />
<line x1="285.8" y1="641.8" x2="285.8" y2="644.4" stroke="#1a1a1a" stroke-width="1.0" />
<line x1="267.5" y1="591.8" x2="285.8" y2="587.1" stroke="#111" stroke-width="0.95" />
<line x1="267.5" y1="600.3" x2="285.8" y2="598" stroke="#111" stroke-width="0.95" />
<line x1="267.5" y1="626.7" x2="285.8" y2="609.3" stroke="#111" stroke-width="0.95" />
<line x1="267.5" y1="636.5" x2="285.8" y2="615" stroke="#111" stroke-width="0.95" />
<line x1="267.5" y1="636.5" x2="285.8" y2="626.7" stroke="#111" stroke-width="0.95" />
<line x1="267.5" y1="641.2" x2="285.8" y2="627.6" stroke="#111" stroke-width="0.95" />
<line x1="267.5" y1="641.2" x2="285.8" y2="633.9" stroke="#111" stroke-width="0.95" />
<line x1="267.5" y1="641.2" x2="285.8" y2="640.3" stroke="#111" stroke-width="0.95" />
<line x1="267.5" y1="641.2" x2="285.8" y2="641.2" stroke="#111" stroke-width="0.95" />
<line x1="267.5" y1="641.2" x2="285.8" y2="641.2" stroke="#111" stroke-width="0.95" />
<circle cx="267.5" cy="591.8" r="1.6" fill="#fff" stroke="#c0143c" stroke-width="1.15"/>
<circle cx="267.5" cy="600.3" r="1.6" fill="#fff" stroke="#c0143c" stroke-width="1.15"/>
<circle cx="267.5" cy="626.7" r="1.6" fill="#fff" stroke="#c0143c" stroke-width="1.15"/>
<circle cx="267.5" cy="636.5" r="1.6" fill="#fff" stroke="#c0143c" stroke-width="1.15"/>
<circle cx="267.5" cy="641.2" r="1.6" fill="#fff" stroke="#c0143c" stroke-width="1.15"/>
<circle cx="267.5" cy="641.2" r="1.6" fill="#fff" stroke="#c0143c" stroke-width="1.15"/>
<circle cx="267.5" cy="641.2" r="1.6" fill="#fff" stroke="#c0143c" stroke-width="1.15"/>
<circle cx="267.5" cy="641.2" r="1.6" fill="#fff" stroke="#c0143c" stroke-width="1.15"/>
<circle cx="267.5" cy="641.2" r="1.6" fill="#fff" stroke="#c0143c" stroke-width="1.15"/>
<circle cx="285.8" cy="587.1" r="1.45" fill="#1c3d85"/>
<circle cx="285.8" cy="598" r="1.45" fill="#1c3d85"/>
<circle cx="285.8" cy="609.3" r="1.45" fill="#1c3d85"/>
<circle cx="285.8" cy="615" r="1.45" fill="#1c3d85"/>
<circle cx="285.8" cy="626.7" r="1.45" fill="#1c3d85"/>
<circle cx="285.8" cy="627.6" r="1.45" fill="#1c3d85"/>
<circle cx="285.8" cy="633.9" r="1.45" fill="#1c3d85"/>
<circle cx="285.8" cy="640.3" r="1.45" fill="#1c3d85"/>
<circle cx="285.8" cy="641.2" r="1.45" fill="#1c3d85"/>
<line x1="266.3" y1="581" x2="285.8" y2="581" stroke="#333" stroke-width="0.9" />
<path d="M274.6 577.25L274.6 579.75M275.68 577.88L273.52 579.12M275.68 579.12L273.52 577.88" stroke="#333" stroke-width="0.85" fill="none"/>
<path d="M277.5 577.25L277.5 579.75M278.58 577.88L276.42 579.12M278.58 579.12L276.42 577.88" stroke="#333" stroke-width="0.85" fill="none"/>
<text x="229.4" y="609.7" font-size="8.8" text-anchor="middle" fill="#1a1a1a" transform="rotate(-90 229.4 609.7)" >IFN&#947;&#160;&#160;(pg/ml)</text>
<text x="268.5" y="650.6" font-size="7.3" text-anchor="end" fill="#1a1a1a" transform="rotate(-45 268.5 650.6)" >clg</text>
<text x="291.4" y="651" font-size="6.9" text-anchor="end" fill="#1a1a1a" transform="rotate(-45 291.4 651)" >anti-TIGIT</text>
<line x1="333.7" y1="577.5" x2="333.7" y2="642.3" stroke="#1a1a1a" stroke-width="1.0" />
<line x1="330.9" y1="641.8" x2="333.7" y2="641.8" stroke="#1a1a1a" stroke-width="1.0" />
<text x="0" y="0" font-size="7.1" text-anchor="end" fill="#1a1a1a" transform="translate(327.6 644.36) scale(0.95 1)" >0</text>
<line x1="330.9" y1="621.37" x2="333.7" y2="621.37" stroke="#1a1a1a" stroke-width="1.0" />
<text x="0" y="0" font-size="7.1" text-anchor="end" fill="#1a1a1a" transform="translate(327.6 623.93) scale(0.95 1)" >1000</text>
<line x1="330.9" y1="600.94" x2="333.7" y2="600.94" stroke="#1a1a1a" stroke-width="1.0" />
<text x="0" y="0" font-size="7.1" text-anchor="end" fill="#1a1a1a" transform="translate(327.6 603.5) scale(0.95 1)" >2000</text>
<line x1="330.9" y1="580.51" x2="333.7" y2="580.51" stroke="#1a1a1a" stroke-width="1.0" />
<text x="0" y="0" font-size="7.1" text-anchor="end" fill="#1a1a1a" transform="translate(327.6 583.07) scale(0.95 1)" >3000</text>
<line x1="333.2" y1="641.8" x2="367.6" y2="641.8" stroke="#1a1a1a" stroke-width="1.0" />
<line x1="342.5" y1="641.8" x2="342.5" y2="644.4" stroke="#1a1a1a" stroke-width="1.0" />
<line x1="361" y1="641.8" x2="361" y2="644.4" stroke="#1a1a1a" stroke-width="1.0" />
<line x1="342.5" y1="632.4" x2="361" y2="586.1" stroke="#111" stroke-width="0.95" />
<line x1="342.5" y1="634.2" x2="361" y2="593.7" stroke="#111" stroke-width="0.95" />
<line x1="342.5" y1="636.5" x2="361" y2="607.5" stroke="#111" stroke-width="0.95" />
<line x1="342.5" y1="639" x2="361" y2="615" stroke="#111" stroke-width="0.95" />
<line x1="342.5" y1="640.8" x2="361" y2="621.4" stroke="#111" stroke-width="0.95" />
<line x1="342.5" y1="641.2" x2="361" y2="632" stroke="#111" stroke-width="0.95" />
<line x1="342.5" y1="641.2" x2="361" y2="634.2" stroke="#111" stroke-width="0.95" />
<line x1="342.5" y1="641.2" x2="361" y2="638" stroke="#111" stroke-width="0.95" />
<line x1="342.5" y1="641.2" x2="361" y2="639.9" stroke="#111" stroke-width="0.95" />
<line x1="342.5" y1="641.2" x2="361" y2="641.2" stroke="#111" stroke-width="0.95" />
<circle cx="342.5" cy="632.4" r="1.6" fill="#fff" stroke="#c0143c" stroke-width="1.15"/>
<circle cx="342.5" cy="634.2" r="1.6" fill="#fff" stroke="#c0143c" stroke-width="1.15"/>
<circle cx="342.5" cy="636.5" r="1.6" fill="#fff" stroke="#c0143c" stroke-width="1.15"/>
<circle cx="342.5" cy="639" r="1.6" fill="#fff" stroke="#c0143c" stroke-width="1.15"/>
<circle cx="342.5" cy="640.8" r="1.6" fill="#fff" stroke="#c0143c" stroke-width="1.15"/>
<circle cx="342.5" cy="641.2" r="1.6" fill="#fff" stroke="#c0143c" stroke-width="1.15"/>
<circle cx="342.5" cy="641.2" r="1.6" fill="#fff" stroke="#c0143c" stroke-width="1.15"/>
<circle cx="342.5" cy="641.2" r="1.6" fill="#fff" stroke="#c0143c" stroke-width="1.15"/>
<circle cx="342.5" cy="641.2" r="1.6" fill="#fff" stroke="#c0143c" stroke-width="1.15"/>
<circle cx="342.5" cy="641.2" r="1.6" fill="#fff" stroke="#c0143c" stroke-width="1.15"/>
<circle cx="361" cy="586.1" r="1.45" fill="#1c3d85"/>
<circle cx="361" cy="593.7" r="1.45" fill="#1c3d85"/>
<circle cx="361" cy="607.5" r="1.45" fill="#1c3d85"/>
<circle cx="361" cy="615" r="1.45" fill="#1c3d85"/>
<circle cx="361" cy="621.4" r="1.45" fill="#1c3d85"/>
<circle cx="361" cy="632" r="1.45" fill="#1c3d85"/>
<circle cx="361" cy="634.2" r="1.45" fill="#1c3d85"/>
<circle cx="361" cy="638" r="1.45" fill="#1c3d85"/>
<circle cx="361" cy="639.9" r="1.45" fill="#1c3d85"/>
<circle cx="361" cy="641.2" r="1.45" fill="#1c3d85"/>
<line x1="343.7" y1="582.4" x2="363.3" y2="582.4" stroke="#333" stroke-width="0.9" />
<path d="M352.05 578.65L352.05 581.15M353.13 579.27L350.97 580.52M353.13 580.52L350.97 579.27" stroke="#333" stroke-width="0.85" fill="none"/>
<path d="M354.95 578.65L354.95 581.15M356.03 579.27L353.87 580.52M356.03 580.52L353.87 579.27" stroke="#333" stroke-width="0.85" fill="none"/>
<text x="304.6" y="610" font-size="8.9" text-anchor="middle" fill="#1a1a1a" transform="rotate(-90 304.6 610)" >IL-2&#160;&#160;(pg/ml)</text>
<text x="343.5" y="650.6" font-size="7.3" text-anchor="end" fill="#1a1a1a" transform="rotate(-45 343.5 650.6)" >clg</text>
<text x="366.6" y="651" font-size="6.9" text-anchor="end" fill="#1a1a1a" transform="rotate(-45 366.6 651)" >anti-TIGIT</text>
<line x1="408.6" y1="577.5" x2="408.6" y2="642.3" stroke="#1a1a1a" stroke-width="1.0" />
<line x1="405.8" y1="641.8" x2="408.6" y2="641.8" stroke="#1a1a1a" stroke-width="1.0" />
<text x="0" y="0" font-size="7.1" text-anchor="end" fill="#1a1a1a" transform="translate(402.5 644.36) scale(0.95 1)" >0</text>
<line x1="405.8" y1="621.37" x2="408.6" y2="621.37" stroke="#1a1a1a" stroke-width="1.0" />
<text x="0" y="0" font-size="7.1" text-anchor="end" fill="#1a1a1a" transform="translate(402.5 623.92) scale(0.95 1)" >500</text>
<line x1="405.8" y1="600.93" x2="408.6" y2="600.93" stroke="#1a1a1a" stroke-width="1.0" />
<text x="0" y="0" font-size="7.1" text-anchor="end" fill="#1a1a1a" transform="translate(402.5 603.49) scale(0.95 1)" >1000</text>
<line x1="405.8" y1="580.5" x2="408.6" y2="580.5" stroke="#1a1a1a" stroke-width="1.0" />
<text x="0" y="0" font-size="7.1" text-anchor="end" fill="#1a1a1a" transform="translate(402.5 583.05) scale(0.95 1)" >1500</text>
<line x1="408.1" y1="641.8" x2="442" y2="641.8" stroke="#1a1a1a" stroke-width="1.0" />
<line x1="417.5" y1="641.8" x2="417.5" y2="644.4" stroke="#1a1a1a" stroke-width="1.0" />
<line x1="435.8" y1="641.8" x2="435.8" y2="644.4" stroke="#1a1a1a" stroke-width="1.0" />
<line x1="417.5" y1="611.6" x2="435.8" y2="612.5" stroke="#111" stroke-width="0.95" />
<line x1="417.5" y1="625.8" x2="435.8" y2="584.2" stroke="#111" stroke-width="0.95" />
<line x1="417.5" y1="627.1" x2="435.8" y2="600.3" stroke="#111" stroke-width="0.95" />
<line x1="417.5" y1="611.6" x2="435.8" y2="608.2" stroke="#111" stroke-width="0.95" />
<line x1="417.5" y1="634.2" x2="435.8" y2="615" stroke="#111" stroke-width="0.95" />
<line x1="417.5" y1="639.5" x2="435.8" y2="621.4" stroke="#111" stroke-width="0.95" />
<line x1="417.5" y1="640.8" x2="435.8" y2="637.1" stroke="#111" stroke-width="0.95" />
<line x1="417.5" y1="641.2" x2="435.8" y2="639" stroke="#111" stroke-width="0.95" />
<line x1="417.5" y1="641.2" x2="435.8" y2="640.8" stroke="#111" stroke-width="0.95" />
<line x1="417.5" y1="641.2" x2="435.8" y2="640.8" stroke="#111" stroke-width="0.95" />
<circle cx="417.5" cy="611.6" r="1.6" fill="#fff" stroke="#c0143c" stroke-width="1.15"/>
<circle cx="417.5" cy="625.8" r="1.6" fill="#fff" stroke="#c0143c" stroke-width="1.15"/>
<circle cx="417.5" cy="627.1" r="1.6" fill="#fff" stroke="#c0143c" stroke-width="1.15"/>
<circle cx="417.5" cy="634.2" r="1.6" fill="#fff" stroke="#c0143c" stroke-width="1.15"/>
<circle cx="417.5" cy="639.5" r="1.6" fill="#fff" stroke="#c0143c" stroke-width="1.15"/>
<circle cx="417.5" cy="640.8" r="1.6" fill="#fff" stroke="#c0143c" stroke-width="1.15"/>
<circle cx="417.5" cy="641.2" r="1.6" fill="#fff" stroke="#c0143c" stroke-width="1.15"/>
<circle cx="417.5" cy="641.2" r="1.6" fill="#fff" stroke="#c0143c" stroke-width="1.15"/>
<circle cx="417.5" cy="641.2" r="1.6" fill="#fff" stroke="#c0143c" stroke-width="1.15"/>
<circle cx="435.8" cy="584.2" r="1.45" fill="#1c3d85"/>
<circle cx="435.8" cy="600.3" r="1.45" fill="#1c3d85"/>
<circle cx="435.8" cy="608.2" r="1.45" fill="#1c3d85"/>
<circle cx="435.8" cy="612.5" r="1.45" fill="#1c3d85"/>
<circle cx="435.8" cy="615" r="1.45" fill="#1c3d85"/>
<circle cx="435.8" cy="621.4" r="1.45" fill="#1c3d85"/>
<circle cx="435.8" cy="637.1" r="1.45" fill="#1c3d85"/>
<circle cx="435.8" cy="639" r="1.45" fill="#1c3d85"/>
<circle cx="435.8" cy="640.8" r="1.45" fill="#1c3d85"/>
<line x1="416.9" y1="581" x2="436.3" y2="581" stroke="#333" stroke-width="0.9" />
<path d="M425.15 577.25L425.15 579.75M426.23 577.88L424.07 579.12M426.23 579.12L424.07 577.88" stroke="#333" stroke-width="0.85" fill="none"/>
<path d="M428.05 577.25L428.05 579.75M429.13 577.88L426.97 579.12M429.13 579.12L426.97 577.88" stroke="#333" stroke-width="0.85" fill="none"/>
<text x="379.1" y="610" font-size="8.7" text-anchor="middle" fill="#1a1a1a" transform="rotate(-90 379.1 610)" >CCL5&#160;&#160;(pg/ml)</text>
<text x="418.5" y="650.6" font-size="7.3" text-anchor="end" fill="#1a1a1a" transform="rotate(-45 418.5 650.6)" >clg</text>
<text x="441.4" y="651" font-size="6.9" text-anchor="end" fill="#1a1a1a" transform="rotate(-45 441.4 651)" >anti-TIGIT</text>
<line x1="478.7" y1="577.5" x2="478.7" y2="642.3" stroke="#1a1a1a" stroke-width="1.0" />
<line x1="475.9" y1="641.8" x2="478.7" y2="641.8" stroke="#1a1a1a" stroke-width="1.0" />
<text x="0" y="0" font-size="7.1" text-anchor="end" fill="#1a1a1a" transform="translate(472.6 644.36) scale(0.95 1)" >0</text>
<line x1="475.9" y1="621.36" x2="478.7" y2="621.36" stroke="#1a1a1a" stroke-width="1.0" />
<text x="0" y="0" font-size="7.1" text-anchor="end" fill="#1a1a1a" transform="translate(472.6 623.92) scale(0.95 1)" >200</text>
<line x1="475.9" y1="600.92" x2="478.7" y2="600.92" stroke="#1a1a1a" stroke-width="1.0" />
<text x="0" y="0" font-size="7.1" text-anchor="end" fill="#1a1a1a" transform="translate(472.6 603.48) scale(0.95 1)" >400</text>
<line x1="475.9" y1="580.48" x2="478.7" y2="580.48" stroke="#1a1a1a" stroke-width="1.0" />
<text x="0" y="0" font-size="7.1" text-anchor="end" fill="#1a1a1a" transform="translate(472.6 583.04) scale(0.95 1)" >600</text>
<line x1="478.2" y1="641.8" x2="513" y2="641.8" stroke="#1a1a1a" stroke-width="1.0" />
<line x1="488.1" y1="641.8" x2="488.1" y2="644.4" stroke="#1a1a1a" stroke-width="1.0" />
<line x1="507" y1="641.8" x2="507" y2="644.4" stroke="#1a1a1a" stroke-width="1.0" />
<line x1="488.1" y1="601.2" x2="507" y2="592.4" stroke="#111" stroke-width="0.95" />
<line x1="488.1" y1="619.5" x2="507" y2="623.9" stroke="#111" stroke-width="0.95" />
<line x1="488.1" y1="638.4" x2="507" y2="613.1" stroke="#111" stroke-width="0.95" />
<line x1="488.1" y1="638.4" x2="507" y2="621.4" stroke="#111" stroke-width="0.95" />
<line x1="488.1" y1="639.9" x2="507" y2="625.8" stroke="#111" stroke-width="0.95" />
<line x1="488.1" y1="639.9" x2="507" y2="633.3" stroke="#111" stroke-width="0.95" />
<line x1="488.1" y1="641.2" x2="507" y2="637.6" stroke="#111" stroke-width="0.95" />
<line x1="488.1" y1="641.2" x2="507" y2="640.8" stroke="#111" stroke-width="0.95" />
<circle cx="488.1" cy="601.2" r="1.6" fill="#fff" stroke="#c0143c" stroke-width="1.15"/>
<circle cx="488.1" cy="619.5" r="1.6" fill="#fff" stroke="#c0143c" stroke-width="1.15"/>
<circle cx="488.1" cy="638.4" r="1.6" fill="#fff" stroke="#c0143c" stroke-width="1.15"/>
<circle cx="488.1" cy="639.9" r="1.6" fill="#fff" stroke="#c0143c" stroke-width="1.15"/>
<circle cx="488.1" cy="641.2" r="1.6" fill="#fff" stroke="#c0143c" stroke-width="1.15"/>
<circle cx="507" cy="592.4" r="1.45" fill="#1c3d85"/>
<circle cx="507" cy="613.1" r="1.45" fill="#1c3d85"/>
<circle cx="507" cy="621.4" r="1.45" fill="#1c3d85"/>
<circle cx="507" cy="623.9" r="1.45" fill="#1c3d85"/>
<circle cx="507" cy="625.8" r="1.45" fill="#1c3d85"/>
<circle cx="507" cy="633.3" r="1.45" fill="#1c3d85"/>
<circle cx="507" cy="637.6" r="1.45" fill="#1c3d85"/>
<circle cx="507" cy="640.8" r="1.45" fill="#1c3d85"/>
<line x1="487.5" y1="583.3" x2="507.4" y2="583.3" stroke="#333" stroke-width="0.9" />
<path d="M497.45 579.55L497.45 582.05M498.53 580.17L496.37 581.42M498.53 581.42L496.37 580.17" stroke="#333" stroke-width="0.85" fill="none"/>
<text x="454.1" y="610.2" font-size="8.9" text-anchor="middle" fill="#1a1a1a" transform="rotate(-90 454.1 610.2)" >TNF&#945;&#160;&#160;(pg/ml)</text>
<text x="489.1" y="650.6" font-size="7.3" text-anchor="end" fill="#1a1a1a" transform="rotate(-45 489.1 650.6)" >clg</text>
<text x="512.6" y="651" font-size="6.9" text-anchor="end" fill="#1a1a1a" transform="rotate(-45 512.6 651)" >anti-TIGIT</text>
<rect x="0.75" y="0.75" width="518.5" height="682.5" fill="none" stroke="#2b2b2b" stroke-width="1.5"/>
</svg></body></html>
